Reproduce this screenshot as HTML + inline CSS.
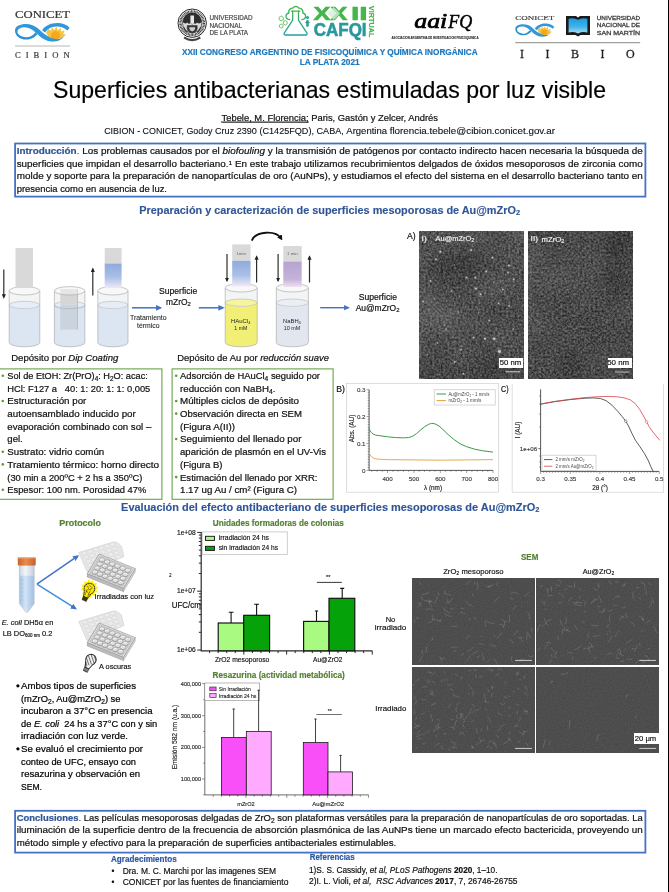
<!DOCTYPE html>
<html lang="es">
<head>
<meta charset="utf-8">
<title>Superficies antibacterianas estimuladas por luz visible</title>
<style>
html,body{margin:0;padding:0;background:#fff;}
body{width:669px;height:892px;overflow:hidden;}
svg{display:block;font-family:"Liberation Sans", Arial, sans-serif;}
text{white-space:pre;}
</style>
</head>
<body>
<svg width="669" height="892" viewBox="0 0 669 892" fill="#111">
<defs>
<linearGradient id="gcaf" x1="0" y1="0" x2="0" y2="1"><stop offset="0" stop-color="#2aa190"/><stop offset="1" stop-color="#2a8fab"/></linearGradient>
<linearGradient id="gfl" gradientUnits="userSpaceOnUse" x1="0" y1="6" x2="0" y2="36"><stop offset="0" stop-color="#4ab848"/><stop offset="1" stop-color="#1f9fa6"/></linearGradient>
<linearGradient id="gbook" x1="0" y1="0" x2="0" y2="1"><stop offset="0" stop-color="#1f9ae0"/><stop offset="0.55" stop-color="#3fb2ea"/><stop offset="1" stop-color="#a9dcf5"/></linearGradient>
<linearGradient id="gblue" x1="0" y1="0" x2="0" y2="1"><stop offset="0" stop-color="#8faadc"/><stop offset="0.55" stop-color="#a9bfe6"/><stop offset="0.85" stop-color="#d5dcf2"/><stop offset="1" stop-color="#f6e6f4"/></linearGradient>
<linearGradient id="gpurp" x1="0" y1="0" x2="0" y2="1"><stop offset="0" stop-color="#b7a3d0"/><stop offset="0.7" stop-color="#c5b3da"/><stop offset="1" stop-color="#efe2f2"/></linearGradient>
<marker id="ahb" viewBox="0 0 10 10" refX="7" refY="5" markerWidth="4.2" markerHeight="4.2" orient="auto-start-reverse"><path d="M0,0.5 L10,5 L0,9.5 z" fill="#4472c4"/></marker>
<marker id="ahk" viewBox="0 0 10 10" refX="7" refY="5" markerWidth="3.8" markerHeight="3.8" orient="auto-start-reverse"><path d="M0,0.5 L10,5 L0,9.5 z" fill="#222"/></marker>
<marker id="ahk2" viewBox="0 0 10 10" refX="6" refY="5" markerWidth="2.9" markerHeight="2.9" orient="auto-start-reverse"><path d="M0,0 L10,5 L0,10 z" fill="#111"/></marker>
<filter id="ntem1" x="0" y="0" width="100%" height="100%" color-interpolation-filters="sRGB"><feTurbulence type="fractalNoise" baseFrequency="0.46" numOctaves="2" seed="3" result="n"/><feTurbulence type="fractalNoise" baseFrequency="0.02" numOctaves="2" seed="23" result="m"/><feComposite in="n" in2="m" operator="arithmetic" k1="0" k2="0.75" k3="0.25" k4="0" result="c"/><feColorMatrix in="c" type="matrix" values="0.62 0 0 0 -0.005  0.62 0 0 0 -0.005  0.62 0 0 0 -0.005  0 0 0 0 1"/></filter>
<filter id="ntem2" x="0" y="0" width="100%" height="100%" color-interpolation-filters="sRGB"><feTurbulence type="fractalNoise" baseFrequency="0.46" numOctaves="2" seed="11" result="n"/><feTurbulence type="fractalNoise" baseFrequency="0.02" numOctaves="2" seed="31" result="m"/><feComposite in="n" in2="m" operator="arithmetic" k1="0" k2="0.75" k3="0.25" k4="0" result="c"/><feColorMatrix in="c" type="matrix" values="0.62 0 0 0 -0.02  0.62 0 0 0 -0.02  0.62 0 0 0 -0.02  0 0 0 0 1"/></filter>
<filter id="nsem" x="0" y="0" width="100%" height="100%" color-interpolation-filters="sRGB"><feTurbulence type="fractalNoise" baseFrequency="0.7" numOctaves="1" seed="5" result="n"/><feColorMatrix in="n" type="matrix" values="0.09 0 0 0 0.258  0.09 0 0 0 0.258  0.09 0 0 0 0.258  0 0 0 0 1"/></filter>
<clipPath id="cs00"><rect x="412.3" y="578.2" width="122.4" height="86.4"/></clipPath>
<clipPath id="cs10"><rect x="536.9" y="578.2" width="122.0" height="86.4"/></clipPath>
<clipPath id="cs01"><rect x="412.3" y="667.0" width="122.4" height="85.6"/></clipPath>
<clipPath id="cs11"><rect x="536.9" y="667.0" width="122.0" height="85.6"/></clipPath>
<linearGradient id="gcap" x1="0" y1="0" x2="1" y2="0"><stop offset="0" stop-color="#c9622c"/><stop offset="0.45" stop-color="#ee8a4c"/><stop offset="1" stop-color="#c55f2a"/></linearGradient>
<linearGradient id="gtube" x1="0" y1="0" x2="1" y2="0"><stop offset="0" stop-color="#c9d4e2"/><stop offset="0.4" stop-color="#f3f6fa"/><stop offset="1" stop-color="#c3cedd"/></linearGradient>
<linearGradient id="gliq" x1="0" y1="0" x2="1" y2="0"><stop offset="0" stop-color="#a6c5e6"/><stop offset="0.4" stop-color="#d3e4f5"/><stop offset="1" stop-color="#a0c0e4"/></linearGradient>
</defs>
<rect x="0" y="0" width="669" height="892" fill="#fff"/>
<text x="15.00" y="18.20" font-size="9.6" stroke="#3a3a3a" stroke-width="0.211" textLength="55.00" lengthAdjust="spacingAndGlyphs" fill="#3a3a3a" font-family='"Liberation Serif", "Times New Roman", serif'>CONICET</text>
<g transform="translate(10,18) scale(0.0972)"><path d="M372,150 L395,108 L420,135 L432,92 L455,125 L478,88 L490,128 L522,100 L524,140 L560,128 L548,165 L575,172 L540,205 L400,205 Z" fill="#f9c33f"/><circle cx="468" cy="182" r="47" fill="#f5a81c"/><path d="M330,125 C365,72 440,42 522,54 C562,60 597,80 613,102 L590,128 C560,98 520,86 478,87 C420,88 388,112 362,150 Z" fill="#2f97dd"/><path d="M53,112 C42,170 90,222 170,222 C222,222 258,196 282,168 L262,146 C236,184 200,200 165,198 C110,195 72,166 76,136 Z" fill="#2a8fd6"/><path d="M53,118 C58,74 150,44 232,74 C304,100 352,190 452,214 C502,226 540,210 566,176 L548,196 C520,246 430,252 378,232 C300,202 262,124 190,102 C130,86 84,102 74,142 Z" fill="#2f97dd"/></g>
<line x1="15" y1="46" x2="70" y2="46" stroke="#9a9a9a" stroke-width="0.7"/>
<text x="15.00" y="58.30" font-size="8.6" stroke="#3a3a3a" stroke-width="0.189" fill="#3a3a3a" font-family='"Liberation Serif", "Times New Roman", serif' letter-spacing="5.0">CIBION</text>
<g><circle cx="192.2" cy="23.2" r="14.2" fill="#fff" stroke="#262626" stroke-width="1.0"/><circle cx="192.2" cy="23.2" r="11.7" fill="none" stroke="#3c3c3c" stroke-width="2.5" stroke-dasharray="0.9 0.55"/><circle cx="192.2" cy="23.2" r="9.7" fill="#dcdcdc" stroke="#222" stroke-width="0.7"/><path d="M182.7,22 a9.5,9.5 0 0 1 19,0 q-2.6,2.6 -4.6,0.4 q-1.4,2.4 -3.4,0.6 l-1.5,1.8 l-1.5,-1.8 q-2,1.8 -3.4,-0.6 q-2,2.2 -4.6,-0.4z" fill="#2e2e2e"/><path d="M190.4,15.6 h3.6 v6.8 l-1.8,2.2 l-1.8,-2.2z" fill="#e8e8e8"/><path d="M187.2,25.6 h10 v3.2 q0,2.8 -5,4.2 q-5,-1.4 -5,-4.2z" fill="#3a3a3a" stroke="#1e1e1e" stroke-width="0.5"/><path d="M189.4,27.2 h5.6 v1.6 q0,1.6 -2.8,2.6 q-2.8,-1 -2.8,-2.6z" fill="#cfcfcf"/><path d="M183.6,27 q1.2,3.6 3.6,5.2 M200.8,27 q-1.2,3.6 -3.6,5.2" stroke="#333" stroke-width="1.1" fill="none"/><path d="M184.6,36.6 q7.6,5 15.2,0 l1,2 q-8.6,5.2 -17.2,0z" fill="#444"/></g>
<text x="209.40" y="19.90" font-size="6.6" stroke="#474747" stroke-width="0.198" textLength="43.10" lengthAdjust="spacingAndGlyphs" fill="#474747">UNIVERSIDAD</text>
<text x="209.40" y="27.60" font-size="6.6" stroke="#474747" stroke-width="0.198" textLength="32.60" lengthAdjust="spacingAndGlyphs" fill="#474747">NACIONAL</text>
<text x="209.40" y="35.20" font-size="6.6" stroke="#474747" stroke-width="0.198" textLength="38.60" lengthAdjust="spacingAndGlyphs" fill="#474747">DE LA PLATA</text>
<g fill="none" stroke="url(#gfl)" stroke-width="1.3" stroke-linejoin="round" stroke-linecap="round"><path d="M292.7,11.2 v9 l-8.3,12.6 q-1,2.2 1.2,2.2 h20 q2.2,0 1.2,-2.2 l-8.3,-12.6 v-9"/><path d="M291.4,11.2 h8.4"/><path d="M289.6,19.6 q-3.6,-0.4 -3.6,-3.6 q0.2,-2.6 2.8,-3 q-0.6,-2.8 1.8,-4.4 q1,-0.7 2.2,-0.5 q1,-1.6 3,-1.6 q2,0 3,1.6 q1.2,-0.2 2.2,0.5 q2.4,1.6 1.8,4.4 q2.6,0.4 2.8,3 q0,3.2 -3.6,3.6"/></g>
<g fill="none" stroke="#4ab54a" stroke-width="0.75"><path d="M281.2,16 l2.1,1.2 v2.4 l-2.1,1.2 l-2.1,-1.2 v-2.4 z"/><path d="M285.3,20.6 l1.9,1.1 v2.2 l-1.9,1.1 l-1.9,-1.1 v-2.2 z"/><path d="M281.2,24 l1.8,1 v2.1 l-1.8,1 l-1.8,-1 v-2.1 z"/><path d="M283.3,19.6 l0.5,0.9 M283.2,24.2 l0.4,-0.4"/></g>
<g fill="#26a393"><circle cx="307.5" cy="17.6" r="1.5"/><rect x="306.2" y="19.9" width="2.6" height="7" rx="1.3"/><rect x="305.4" y="22" width="4.2" height="1.1"/></g>
<text x="313.60" y="20.10" font-size="18.4" stroke="#45b64b" stroke-width="0.644" textLength="33.60" lengthAdjust="spacingAndGlyphs" fill="#45b64b" font-weight="bold">XX</text>
<text x="351.00" y="20.10" font-size="18.4" stroke="#45b64b" stroke-width="0.644" textLength="16.60" lengthAdjust="spacingAndGlyphs" fill="#45b64b" font-weight="bold">II</text>
<path d="M327.6,13.5 l6.2,-6.6 l6.2,6.6 l-6.2,6.6 z" fill="#d3f0d3" opacity="0.78"/>
<text x="313.80" y="35.80" font-size="18.4" textLength="52.80" lengthAdjust="spacingAndGlyphs" fill="url(#gcaf)" font-weight="bold" stroke="#279a9c" stroke-width="0.6">CAFQI</text>
<text x="0.00" y="0.00" font-size="7.4" stroke="#41b24a" stroke-width="0.163" textLength="31.60" lengthAdjust="spacingAndGlyphs" fill="#41b24a" font-weight="bold" transform="translate(369.4,5.8) rotate(90)">VIRTUAL</text>
<text x="414.30" y="27.50" font-size="20.5" textLength="33.00" lengthAdjust="spacingAndGlyphs" fill="#000" font-style="italic" font-family='"Liberation Serif", "Times New Roman", serif' stroke="#000" stroke-width="0.7">aai</text>
<text x="448.20" y="28.20" font-size="19" textLength="24.00" lengthAdjust="spacingAndGlyphs" fill="#000" font-style="italic" font-family='"Liberation Serif", "Times New Roman", serif' stroke="#000" stroke-width="0.45">FQ</text>
<text x="391.50" y="39.40" font-size="3.1" stroke="#222" stroke-width="0.068" textLength="87.00" lengthAdjust="spacingAndGlyphs" fill="#222" font-weight="bold">ASOCIACION ARGENTINA DE INVESTIGACION FISICOQUIMICA</text>
<text x="182.00" y="55.10" font-size="8.3" stroke="#1d78bd" stroke-width="0.183" textLength="295.70" lengthAdjust="spacingAndGlyphs" fill="#1d78bd" font-weight="bold">XXII CONGRESO ARGENTINO DE FISICOQUÍMICA Y QUÍMICA INORGÁNICA</text>
<text x="299.70" y="65.30" font-size="8.3" stroke="#1d78bd" stroke-width="0.183" textLength="60.00" lengthAdjust="spacingAndGlyphs" fill="#1d78bd" font-weight="bold">LA PLATA 2021</text>
<text x="515.30" y="19.80" font-size="6.2" stroke="#3a3a3a" stroke-width="0.136" textLength="39.00" lengthAdjust="spacingAndGlyphs" fill="#3a3a3a" font-family='"Liberation Serif", "Times New Roman", serif'>CONICET</text>
<g transform="translate(511.75,19.9) scale(0.0695)"><path d="M372,150 L395,108 L420,135 L432,92 L455,125 L478,88 L490,128 L522,100 L524,140 L560,128 L548,165 L575,172 L540,205 L400,205 Z" fill="#f9c33f"/><circle cx="468" cy="182" r="47" fill="#f5a81c"/><path d="M330,125 C365,72 440,42 522,54 C562,60 597,80 613,102 L590,128 C560,98 520,86 478,87 C420,88 388,112 362,150 Z" fill="#2f97dd"/><path d="M53,112 C42,170 90,222 170,222 C222,222 258,196 282,168 L262,146 C236,184 200,200 165,198 C110,195 72,166 76,136 Z" fill="#2a8fd6"/><path d="M53,118 C58,74 150,44 232,74 C304,100 352,190 452,214 C502,226 540,210 566,176 L548,196 C520,246 430,252 378,232 C300,202 262,124 190,102 C130,86 84,102 74,142 Z" fill="#2f97dd"/></g>
<g><path d="M566,16 h10 l2,1.4 l2,-1.4 h10 v19 h-9.5 l-2.5,1.4 l-2.5,-1.4 h-9.5 z" fill="#1b1b1b"/><path d="M568.6,18.8 q5,-1.4 9.4,1 q4.4,-2.4 9.4,-1 v13.6 q-5,-1.2 -9.4,1 q-4.4,-2.2 -9.4,-1 z" fill="url(#gbook)"/></g>
<text x="596.80" y="19.60" font-size="5.2" stroke="#444" stroke-width="0.260" textLength="43.30" lengthAdjust="spacingAndGlyphs" fill="#444">UNIVERSIDAD</text>
<text x="596.80" y="27.40" font-size="5.2" stroke="#444" stroke-width="0.260" textLength="43.30" lengthAdjust="spacingAndGlyphs" fill="#444">NACIONAL DE</text>
<text x="596.80" y="35.00" font-size="5.2" stroke="#444" stroke-width="0.260" textLength="43.30" lengthAdjust="spacingAndGlyphs" fill="#444">SAN MARTÍN</text>
<line x1="515.3" y1="42.7" x2="640.2" y2="42.7" stroke="#555" stroke-width="0.7"/>
<text x="520.00" y="58.30" font-size="12" stroke="#1d1d1d" stroke-width="0.264" fill="#1d1d1d" font-family='"Liberation Serif", "Times New Roman", serif' letter-spacing="21.5">IIBIO</text>
<text x="53.00" y="97.80" font-size="23.2" stroke="#000" stroke-width="0.186" textLength="553.00" lengthAdjust="spacingAndGlyphs" fill="#000">Superficies antibacterianas estimuladas por luz visible</text>
<text x="221.50" y="120.70" font-size="9.1" stroke="#111" stroke-width="0.200" textLength="216.50" lengthAdjust="spacingAndGlyphs"><tspan text-decoration="underline">Tebele, M. Florencia;</tspan> Paris, Gastón y Zelcer, Andrés</text>
<text x="104.20" y="134.00" font-size="9.1" stroke="#111" stroke-width="0.109" textLength="110.80" lengthAdjust="spacingAndGlyphs">CIBION - CONICET, Godoy </text>
<text x="215.00" y="134.00" font-size="9.1" stroke="#111" stroke-width="0.109" textLength="131.30" lengthAdjust="spacingAndGlyphs">Cruz 2390 (C1425FQD), CABA, </text>
<text x="346.30" y="134.00" font-size="9.1" stroke="#111" stroke-width="0.109" textLength="43.40" lengthAdjust="spacingAndGlyphs">Argentina </text>
<text x="389.70" y="134.00" font-size="9.1" stroke="#111" stroke-width="0.109" textLength="165.30" lengthAdjust="spacingAndGlyphs">florencia.tebele@cibion.conicet.gov.ar</text>
<rect x="15.1" y="143.5" width="630.3" height="53.1" fill="none" stroke="#4472c4" stroke-width="1.8"/>
<text x="16.70" y="154.30" font-size="9.2" stroke="#111" stroke-width="0.202" textLength="626.00" lengthAdjust="spacingAndGlyphs"><tspan font-weight="bold" fill="#2f5597" stroke="#2f5597">Introducción</tspan><tspan fill="#2f5597" stroke="#2f5597">.</tspan> Los problemas causados por el <tspan font-style="italic">biofouling</tspan> y la transmisión de patógenos por contacto indirecto hacen necesaria la búsqueda de</text>
<text x="16.70" y="166.70" font-size="9.2" stroke="#111" stroke-width="0.202" textLength="626.00" lengthAdjust="spacingAndGlyphs">superficies que impidan el desarrollo bacteriano.<tspan baseline-shift="0.4em" font-size="66%">1</tspan> En este trabajo utilizamos recubrimientos delgados de óxidos mesoporosos de zirconia como</text>
<text x="16.70" y="179.10" font-size="9.2" stroke="#111" stroke-width="0.202" textLength="626.00" lengthAdjust="spacingAndGlyphs">molde y soporte para la preparación de nanopartículas de oro (AuNPs), y estudiamos el efecto del sistema en el desarrollo bacteriano tanto en</text>
<text x="16.70" y="191.50" font-size="9.2" stroke="#111" stroke-width="0.202" textLength="150.30" lengthAdjust="spacingAndGlyphs">presencia como en ausencia de luz.</text>
<text x="139.30" y="213.90" font-size="11.0" stroke="#2f5597" stroke-width="0.132" textLength="380.70" lengthAdjust="spacingAndGlyphs" fill="#2f5597" font-weight="bold">Preparación y caracterización de superficies mesoporosas de Au@mZrO<tspan baseline-shift="-0.2em" font-size="68%">2</tspan></text>
<text x="11.20" y="360.80" font-size="9.1" stroke="#111" stroke-width="0.200" textLength="107.20" lengthAdjust="spacingAndGlyphs">Depósito por <tspan font-style="italic">Dip Coating</tspan></text>
<text x="177.20" y="360.60" font-size="9.1" stroke="#111" stroke-width="0.200" textLength="151.80" lengthAdjust="spacingAndGlyphs">Depósito de Au por <tspan font-style="italic">reducción suave</tspan></text>
<rect x="-2" y="368.9" width="163.9" height="130.4" fill="none" stroke="#68a442" stroke-width="1.1"/>
<rect x="172.1" y="368.9" width="161.0" height="130.4" fill="none" stroke="#68a442" stroke-width="1.1"/>
<circle cx="2.8" cy="375.8" r="1.3" fill="#5f9a3e"/>
<text x="7.30" y="379.20" font-size="9.35" stroke="#111" stroke-width="0.206" textLength="140.50" lengthAdjust="spacingAndGlyphs">Sol de EtOH: Zr(PrO)<tspan baseline-shift="-0.24em" font-size="70%">4</tspan>: H<tspan baseline-shift="-0.24em" font-size="70%">2</tspan>O: acac:</text>
<text x="7.30" y="391.80" font-size="9.35" stroke="#111" stroke-width="0.206" textLength="143.00" lengthAdjust="spacingAndGlyphs">HCl: F127 a   40: 1: 20: 1: 1: 0,005</text>
<circle cx="2.8" cy="401.0" r="1.3" fill="#5f9a3e"/>
<text x="7.30" y="404.40" font-size="9.35" stroke="#111" stroke-width="0.206" textLength="79.00" lengthAdjust="spacingAndGlyphs">Estructuración por</text>
<text x="7.30" y="417.00" font-size="9.35" stroke="#111" stroke-width="0.206" textLength="128.50" lengthAdjust="spacingAndGlyphs">autoensamblado inducido por</text>
<text x="7.30" y="429.70" font-size="9.35" stroke="#111" stroke-width="0.206" textLength="144.00" lengthAdjust="spacingAndGlyphs">evaporación combinado con sol –</text>
<text x="7.30" y="442.40" font-size="9.35" stroke="#111" stroke-width="0.206" textLength="15.50" lengthAdjust="spacingAndGlyphs">gel.</text>
<circle cx="2.8" cy="451.7" r="1.3" fill="#5f9a3e"/>
<text x="7.30" y="455.10" font-size="9.35" stroke="#111" stroke-width="0.206" textLength="97.00" lengthAdjust="spacingAndGlyphs">Sustrato: vidrio común</text>
<circle cx="2.8" cy="464.4" r="1.3" fill="#5f9a3e"/>
<text x="7.30" y="467.80" font-size="9.35" stroke="#111" stroke-width="0.206" textLength="151.80" lengthAdjust="spacingAndGlyphs">Tratamiento térmico: horno directo</text>
<text x="7.30" y="480.50" font-size="9.35" stroke="#111" stroke-width="0.206" textLength="135.00" lengthAdjust="spacingAndGlyphs">(30 min a 200ºC + 2 hs a 350ºC)</text>
<circle cx="2.8" cy="489.8" r="1.3" fill="#5f9a3e"/>
<text x="7.30" y="493.20" font-size="9.35" stroke="#111" stroke-width="0.206" textLength="139.00" lengthAdjust="spacingAndGlyphs">Espesor: 100 nm. Porosidad 47%</text>
<circle cx="176.2" cy="375.8" r="1.3" fill="#5f9a3e"/>
<text x="180.00" y="379.20" font-size="9.35" stroke="#111" stroke-width="0.206" textLength="140.00" lengthAdjust="spacingAndGlyphs">Adsorción de HAuCl<tspan baseline-shift="-0.24em" font-size="70%">4</tspan> seguido por</text>
<text x="180.00" y="391.80" font-size="9.35" stroke="#111" stroke-width="0.206" textLength="95.50" lengthAdjust="spacingAndGlyphs">reducción con NaBH<tspan baseline-shift="-0.24em" font-size="70%">4</tspan>.</text>
<circle cx="176.2" cy="401.0" r="1.3" fill="#5f9a3e"/>
<text x="180.00" y="404.40" font-size="9.35" stroke="#111" stroke-width="0.206" textLength="119.00" lengthAdjust="spacingAndGlyphs">Múltiples ciclos de depósito</text>
<circle cx="176.2" cy="413.6" r="1.3" fill="#5f9a3e"/>
<text x="180.00" y="417.00" font-size="9.35" stroke="#111" stroke-width="0.206" textLength="122.00" lengthAdjust="spacingAndGlyphs">Observación directa en SEM</text>
<text x="180.00" y="429.70" font-size="9.35" stroke="#111" stroke-width="0.206" textLength="55.00" lengthAdjust="spacingAndGlyphs">(Figura A(II))</text>
<circle cx="176.2" cy="439.0" r="1.3" fill="#5f9a3e"/>
<text x="180.00" y="442.40" font-size="9.35" stroke="#111" stroke-width="0.206" textLength="121.50" lengthAdjust="spacingAndGlyphs">Seguimiento del llenado por</text>
<text x="180.00" y="455.10" font-size="9.35" stroke="#111" stroke-width="0.206" textLength="146.00" lengthAdjust="spacingAndGlyphs">aparición de plasmón en el UV-Vis</text>
<text x="180.00" y="467.80" font-size="9.35" stroke="#111" stroke-width="0.206" textLength="42.50" lengthAdjust="spacingAndGlyphs">(Figura B)</text>
<circle cx="176.2" cy="477.1" r="1.3" fill="#5f9a3e"/>
<text x="180.00" y="480.50" font-size="9.35" stroke="#111" stroke-width="0.206" textLength="137.50" lengthAdjust="spacingAndGlyphs">Estimación del llenado por XRR:</text>
<text x="180.00" y="493.20" font-size="9.35" stroke="#111" stroke-width="0.206" textLength="117.00" lengthAdjust="spacingAndGlyphs">1.17 ug Au / cm² (Figura C)</text>
<text x="121.10" y="510.70" font-size="11.0" stroke="#2f5597" stroke-width="0.132" textLength="418.40" lengthAdjust="spacingAndGlyphs" fill="#2f5597" font-weight="bold">Evaluación del efecto antibacteriano de superficies mesoporosas de Au@mZrO<tspan baseline-shift="-0.2em" font-size="68%">2</tspan></text>
<text x="59.30" y="526.00" font-size="9.3" stroke="#548235" stroke-width="0.205" textLength="41.70" lengthAdjust="spacingAndGlyphs" fill="#548235" font-weight="bold">Protocolo</text>
<text x="212.80" y="526.00" font-size="8.5" stroke="#548235" stroke-width="0.187" textLength="131.00" lengthAdjust="spacingAndGlyphs" fill="#548235" font-weight="bold">Unidades formadoras de colonias</text>
<text x="212.60" y="678.00" font-size="8.5" stroke="#548235" stroke-width="0.187" textLength="132.20" lengthAdjust="spacingAndGlyphs" fill="#548235" font-weight="bold">Resazurina (actividad metabólica)</text>
<text x="521.00" y="560.30" font-size="8.3" stroke="#548235" stroke-width="0.183" textLength="17.30" lengthAdjust="spacingAndGlyphs" fill="#548235" font-weight="bold">SEM</text>
<circle cx="17.9" cy="685.8" r="1.6" fill="#000"/>
<text x="21.00" y="689.00" font-size="9.4" stroke="#000" stroke-width="0.207" textLength="115.00" lengthAdjust="spacingAndGlyphs" fill="#000">Ambos tipos de superficies</text>
<text x="21.00" y="701.60" font-size="9.4" stroke="#000" stroke-width="0.207" textLength="99.50" lengthAdjust="spacingAndGlyphs" fill="#000">(mZrO<tspan baseline-shift="-0.24em" font-size="70%">2</tspan>, Au@mZrO<tspan baseline-shift="-0.24em" font-size="70%">2</tspan>) se</text>
<text x="21.00" y="714.20" font-size="9.4" stroke="#000" stroke-width="0.207" textLength="131.50" lengthAdjust="spacingAndGlyphs" fill="#000">incubaron a 37°C en presencia</text>
<text x="21.00" y="726.80" font-size="9.4" stroke="#000" stroke-width="0.207" textLength="136.30" lengthAdjust="spacingAndGlyphs" fill="#000">de <tspan font-style="italic">E. coli</tspan>  24 hs a 37°C con y sin</text>
<text x="21.00" y="739.40" font-size="9.4" stroke="#000" stroke-width="0.207" textLength="107.00" lengthAdjust="spacingAndGlyphs" fill="#000">irradiación con luz verde.</text>
<circle cx="17.9" cy="748.8" r="1.6" fill="#000"/>
<text x="21.00" y="752.00" font-size="9.4" stroke="#000" stroke-width="0.207" textLength="122.00" lengthAdjust="spacingAndGlyphs" fill="#000">Se evaluó el crecimiento por</text>
<text x="21.00" y="764.70" font-size="9.4" stroke="#000" stroke-width="0.207" textLength="115.00" lengthAdjust="spacingAndGlyphs" fill="#000">conteo de UFC, ensayo con</text>
<text x="21.00" y="777.30" font-size="9.4" stroke="#000" stroke-width="0.207" textLength="119.00" lengthAdjust="spacingAndGlyphs" fill="#000">resazurina y observación en</text>
<text x="21.00" y="790.00" font-size="9.4" stroke="#000" stroke-width="0.207" textLength="21.00" lengthAdjust="spacingAndGlyphs" fill="#000">SEM.</text>
<rect x="15.1" y="810.8" width="630.3" height="41.8" fill="none" stroke="#4472c4" stroke-width="1.8"/>
<text x="16.70" y="820.80" font-size="9.2" stroke="#111" stroke-width="0.202" textLength="626.00" lengthAdjust="spacingAndGlyphs"><tspan font-weight="bold" fill="#2f5597" stroke="#2f5597">Conclusiones</tspan><tspan fill="#2f5597" stroke="#2f5597">.</tspan> Las películas mesoporosas delgadas de ZrO<tspan baseline-shift="-0.24em" font-size="70%">2</tspan> son plataformas versátiles para la preparación de nanopartículas de oro soportadas. La</text>
<text x="16.70" y="833.25" font-size="9.2" stroke="#111" stroke-width="0.202" textLength="626.00" lengthAdjust="spacingAndGlyphs">iluminación de la superficie dentro de la frecuencia de absorción plasmónica de las AuNPs tiene un marcado efecto bactericida, proveyendo un</text>
<text x="16.70" y="845.70" font-size="9.2" stroke="#111" stroke-width="0.202" textLength="379.60" lengthAdjust="spacingAndGlyphs">método simple y efectivo para la preparación de superficies antibacteriales estimulables.</text>
<text x="111.00" y="861.70" font-size="8.3" stroke="#2c58a2" stroke-width="0.183" textLength="65.70" lengthAdjust="spacingAndGlyphs" fill="#2c58a2" font-weight="bold">Agradecimientos</text>
<text x="111.60" y="874.30" font-size="8.3" stroke="#111" stroke-width="0.183">•</text>
<text x="122.70" y="874.30" font-size="8.2" stroke="#111" stroke-width="0.180" textLength="153.30" lengthAdjust="spacingAndGlyphs">Dra. M. C. Marchi por las imagenes SEM</text>
<text x="111.60" y="885.30" font-size="8.3" stroke="#111" stroke-width="0.183">•</text>
<text x="122.70" y="885.30" font-size="8.2" stroke="#111" stroke-width="0.180" textLength="165.80" lengthAdjust="spacingAndGlyphs">CONICET por las fuentes de financiamiento</text>
<text x="309.70" y="860.00" font-size="8.3" stroke="#2c58a2" stroke-width="0.183" textLength="45.00" lengthAdjust="spacingAndGlyphs" fill="#2c58a2" font-weight="bold">Referencias</text>
<text x="309.00" y="872.50" font-size="8.2" stroke="#111" stroke-width="0.180" textLength="188.50" lengthAdjust="spacingAndGlyphs">1)S. S. Cassidy, <tspan font-style="italic">et al, PLoS Pathogens</tspan> <tspan font-weight="bold">2020</tspan>, 1–10.</text>
<text x="309.00" y="883.80" font-size="8.2" stroke="#111" stroke-width="0.180" textLength="208.50" lengthAdjust="spacingAndGlyphs">2)I. L. Violi, <tspan font-style="italic">et al,  RSC Advances</tspan> <tspan font-weight="bold">2017</tspan>, 7, 26746-26755</text>
<path d="M9.2,290.8 V342.6 A15.299999999999999,4.2 0 0 0 39.8,342.6 V290.8 A15.299999999999999,4.2 0 0 0 9.2,290.8z" fill="#f3f4f6" stroke="none"/><path d="M9.2,305.0 V342.6 A15.299999999999999,4.2 0 0 0 39.8,342.6 V305.0 A15.299999999999999,4.2 0 0 1 9.2,305.0z" fill="#dce5f2"/><ellipse cx="24.5" cy="305.0" rx="15.299999999999999" ry="3.7" fill="#e6edf7" stroke="#a3a3a3" stroke-width="0.45"/>
<path d="M9.2,290.8 V342.6 A15.299999999999999,4.2 0 0 0 39.8,342.6 V290.8" fill="none" stroke="#a3a3a3" stroke-width="0.6"/><ellipse cx="24.5" cy="290.8" rx="15.299999999999999" ry="4.2" fill="rgba(255,255,255,0.4)" stroke="#a3a3a3" stroke-width="0.6"/>
<rect x="15.5" y="248" width="17.5" height="40" fill="#d9d9d9"/>
<line x1="3.8" y1="269.6" x2="3.8" y2="297.4" stroke="#2d2d2d" stroke-width="1.2" marker-end="url(#ahk)"/>
<path d="M54.4,290.8 V342.6 A15.250000000000004,4.2 0 0 0 84.9,342.6 V290.8 A15.250000000000004,4.2 0 0 0 54.4,290.8z" fill="#f3f4f6" stroke="none"/><path d="M54.4,305.0 V342.6 A15.250000000000004,4.2 0 0 0 84.9,342.6 V305.0 A15.250000000000004,4.2 0 0 1 54.4,305.0z" fill="#dce5f2"/><ellipse cx="69.65" cy="305.0" rx="15.250000000000004" ry="3.7" fill="#e6edf7" stroke="#a3a3a3" stroke-width="0.45"/>
<rect x="60.3" y="289" width="17.7" height="15.6" fill="#d6d6d6"/>
<rect x="60.3" y="304.6" width="17.7" height="25" fill="#cbd3df"/>
<rect x="77" y="289" width="1" height="40.6" fill="#b9bfc9"/>
<path d="M54.4,305.0 A15.25,3.7 0 0 0 84.9,305.0" fill="none" stroke="#a3a3a3" stroke-width="0.45"/>
<path d="M54.4,290.8 V342.6 A15.250000000000004,4.2 0 0 0 84.9,342.6 V290.8" fill="none" stroke="#a3a3a3" stroke-width="0.6"/><ellipse cx="69.65" cy="290.8" rx="15.250000000000004" ry="4.2" fill="rgba(255,255,255,0.4)" stroke="#a3a3a3" stroke-width="0.6"/>
<line x1="92.8" y1="295.6" x2="92.8" y2="268.8" stroke="#2d2d2d" stroke-width="1.2" marker-end="url(#ahk)"/>
<path d="M97.8,290.8 V342.6 A15.100000000000001,4.2 0 0 0 128.0,342.6 V290.8 A15.100000000000001,4.2 0 0 0 97.8,290.8z" fill="#f3f4f6" stroke="none"/><path d="M97.8,305.0 V342.6 A15.100000000000001,4.2 0 0 0 128.0,342.6 V305.0 A15.100000000000001,4.2 0 0 1 97.8,305.0z" fill="#dce5f2"/><ellipse cx="112.9" cy="305.0" rx="15.100000000000001" ry="3.7" fill="#e6edf7" stroke="#a3a3a3" stroke-width="0.45"/>
<path d="M97.8,290.8 V342.6 A15.100000000000001,4.2 0 0 0 128.0,342.6 V290.8" fill="none" stroke="#a3a3a3" stroke-width="0.6"/><ellipse cx="112.9" cy="290.8" rx="15.100000000000001" ry="4.2" fill="rgba(255,255,255,0.4)" stroke="#a3a3a3" stroke-width="0.6"/>
<rect x="104.7" y="248" width="16.9" height="15.8" fill="#d9d9d9"/>
<rect x="104.7" y="263.6" width="16.9" height="24.4" fill="url(#gblue)"/>
<line x1="132" y1="307.8" x2="160.4" y2="307.8" stroke="#4472c4" stroke-width="1.5" marker-end="url(#ahb)"/>
<text x="148.30" y="319.60" font-size="6.6" stroke="#222" stroke-width="0.066" textLength="36.50" lengthAdjust="spacingAndGlyphs" fill="#222" text-anchor="middle">Tratamiento</text>
<text x="148.30" y="327.60" font-size="6.6" stroke="#222" stroke-width="0.066" textLength="22.50" lengthAdjust="spacingAndGlyphs" fill="#222" text-anchor="middle">térmico</text>
<text x="178.10" y="293.90" font-size="8.3" stroke="#111" stroke-width="0.183" textLength="38.20" lengthAdjust="spacingAndGlyphs" text-anchor="middle">Superficie</text>
<text x="178.50" y="305.00" font-size="8.3" stroke="#111" stroke-width="0.183" textLength="24.80" lengthAdjust="spacingAndGlyphs" text-anchor="middle">mZrO<tspan baseline-shift="-0.24em" font-size="70%">2</tspan></text>
<line x1="198.8" y1="307.8" x2="222.8" y2="307.8" stroke="#4472c4" stroke-width="1.5" marker-end="url(#ahb)"/>
<path d="M225.2,287.8 V342.6 A16.0,4.2 0 0 0 257.2,342.6 V287.8 A16.0,4.2 0 0 0 225.2,287.8z" fill="#f3f4f6" stroke="none"/><path d="M225.2,302.7 V342.6 A16.0,4.2 0 0 0 257.2,342.6 V302.7 A16.0,4.2 0 0 1 225.2,302.7z" fill="#f1ef76"/><ellipse cx="241.2" cy="302.7" rx="16.0" ry="3.7" fill="#f6f49c" stroke="#a3a3a3" stroke-width="0.45"/>
<path d="M225.2,287.8 V342.6 A16.0,4.2 0 0 0 257.2,342.6 V287.8" fill="none" stroke="#a3a3a3" stroke-width="0.6"/><ellipse cx="241.2" cy="287.8" rx="16.0" ry="4.2" fill="rgba(255,255,255,0.4)" stroke="#a3a3a3" stroke-width="0.6"/>
<rect x="232.2" y="244.4" width="18.4" height="16.7" fill="#d9d9d9"/>
<rect x="232.2" y="260.9" width="18.4" height="25.4" fill="url(#gblue)"/>
<text x="241.20" y="254.60" font-size="4.4" fill="#6a6a6a" text-anchor="middle">1min</text>
<line x1="227.0" y1="254.1" x2="227.0" y2="280.8" stroke="#2d2d2d" stroke-width="1.2" marker-end="url(#ahk)"/>
<line x1="256.6" y1="282.5" x2="256.6" y2="256.6" stroke="#2d2d2d" stroke-width="1.2" marker-end="url(#ahk)"/>
<text x="240.80" y="322.50" font-size="5.7" textLength="19.40" lengthAdjust="spacingAndGlyphs" fill="#222" text-anchor="middle">HAuCl<tspan baseline-shift="-0.24em" font-size="70%">4</tspan></text>
<text x="240.80" y="330.00" font-size="5.7" textLength="13.00" lengthAdjust="spacingAndGlyphs" fill="#222" text-anchor="middle">1 mM</text>
<path d="M276.3,287.8 V342.6 A16.049999999999983,4.2 0 0 0 308.4,342.6 V287.8 A16.049999999999983,4.2 0 0 0 276.3,287.8z" fill="#f3f4f6" stroke="none"/><path d="M276.3,302.7 V342.6 A16.049999999999983,4.2 0 0 0 308.4,342.6 V302.7 A16.049999999999983,4.2 0 0 1 276.3,302.7z" fill="#e2e7ef"/><ellipse cx="292.35" cy="302.7" rx="16.049999999999983" ry="3.7" fill="#ebeff5" stroke="#a3a3a3" stroke-width="0.45"/>
<path d="M276.3,287.8 V342.6 A16.049999999999983,4.2 0 0 0 308.4,342.6 V287.8" fill="none" stroke="#a3a3a3" stroke-width="0.6"/><ellipse cx="292.35" cy="287.8" rx="16.049999999999983" ry="4.2" fill="rgba(255,255,255,0.4)" stroke="#a3a3a3" stroke-width="0.6"/>
<rect x="283.3" y="246" width="18.4" height="15.8" fill="#d9d9d9"/>
<rect x="283.3" y="261.6" width="18.4" height="25.4" fill="url(#gpurp)"/>
<text x="292.40" y="254.60" font-size="4.4" fill="#6a6a6a" text-anchor="middle">1 min</text>
<line x1="278.1" y1="254.1" x2="278.1" y2="280.8" stroke="#2d2d2d" stroke-width="1.2" marker-end="url(#ahk)"/>
<line x1="309.5" y1="282.5" x2="309.5" y2="256.6" stroke="#2d2d2d" stroke-width="1.2" marker-end="url(#ahk)"/>
<text x="292.00" y="322.50" font-size="5.7" textLength="17.80" lengthAdjust="spacingAndGlyphs" fill="#222" text-anchor="middle">NaBH<tspan baseline-shift="-0.24em" font-size="70%">4</tspan></text>
<text x="292.00" y="330.00" font-size="5.7" textLength="16.60" lengthAdjust="spacingAndGlyphs" fill="#222" text-anchor="middle">10 mM</text>
<path d="M251.8,240.6 C255.4,230.8 276,230 281.2,238.6" fill="none" stroke="#111" stroke-width="1.9" marker-end="url(#ahk2)"/>
<line x1="320.2" y1="307.7" x2="348.2" y2="307.7" stroke="#4472c4" stroke-width="1.4" marker-end="url(#ahb)"/>
<text x="377.80" y="300.10" font-size="8.3" stroke="#111" stroke-width="0.183" textLength="38.30" lengthAdjust="spacingAndGlyphs" text-anchor="middle">Superficie</text>
<text x="377.60" y="310.80" font-size="8.3" stroke="#111" stroke-width="0.183" textLength="43.80" lengthAdjust="spacingAndGlyphs" text-anchor="middle">Au@mZrO<tspan baseline-shift="-0.24em" font-size="70%">2</tspan></text>
<text x="407.00" y="239.30" font-size="8.4" stroke="#111" stroke-width="0.185" textLength="8.70" lengthAdjust="spacingAndGlyphs">A)</text>
<rect x="419.2" y="231.0" width="104.8" height="147.6" fill="#4a4a4a"/>
<rect x="419.2" y="231.0" width="104.8" height="147.6" filter="url(#ntem1)"/>
<rect x="528.4" y="231.0" width="104.5" height="147.6" fill="#4a4a4a"/>
<rect x="528.4" y="231.0" width="104.5" height="147.6" filter="url(#ntem2)"/>
<circle cx="440.3" cy="251.8" r="1.55" fill="#8e8e8e" opacity="0.5"/>
<circle cx="440.3" cy="251.8" r="0.94" fill="#c6c6c6"/>
<circle cx="471.2" cy="250.1" r="1.55" fill="#8e8e8e" opacity="0.5"/>
<circle cx="471.2" cy="250.1" r="0.94" fill="#c6c6c6"/>
<circle cx="435.8" cy="259.3" r="1.35" fill="#8e8e8e" opacity="0.5"/>
<circle cx="435.8" cy="259.3" r="0.77" fill="#c6c6c6"/>
<circle cx="492.5" cy="257.6" r="1.45" fill="#8e8e8e" opacity="0.5"/>
<circle cx="492.5" cy="257.6" r="0.85" fill="#c6c6c6"/>
<circle cx="509.0" cy="265.5" r="1.45" fill="#8e8e8e" opacity="0.5"/>
<circle cx="509.0" cy="265.5" r="0.85" fill="#c6c6c6"/>
<circle cx="486.3" cy="271.4" r="1.35" fill="#8e8e8e" opacity="0.5"/>
<circle cx="486.3" cy="271.4" r="0.77" fill="#c6c6c6"/>
<circle cx="508.0" cy="272.4" r="1.35" fill="#8e8e8e" opacity="0.5"/>
<circle cx="508.0" cy="272.4" r="0.77" fill="#c6c6c6"/>
<circle cx="466.7" cy="277.6" r="1.35" fill="#8e8e8e" opacity="0.5"/>
<circle cx="466.7" cy="277.6" r="0.77" fill="#c6c6c6"/>
<circle cx="475.3" cy="277.6" r="1.45" fill="#8e8e8e" opacity="0.5"/>
<circle cx="475.3" cy="277.6" r="0.85" fill="#c6c6c6"/>
<circle cx="513.8" cy="279.3" r="1.35" fill="#8e8e8e" opacity="0.5"/>
<circle cx="513.8" cy="279.3" r="0.77" fill="#c6c6c6"/>
<circle cx="476.0" cy="288.6" r="1.55" fill="#8e8e8e" opacity="0.5"/>
<circle cx="476.0" cy="288.6" r="0.94" fill="#c6c6c6"/>
<circle cx="502.8" cy="289.6" r="1.35" fill="#8e8e8e" opacity="0.5"/>
<circle cx="502.8" cy="289.6" r="0.77" fill="#c6c6c6"/>
<circle cx="480.5" cy="294.1" r="1.45" fill="#8e8e8e" opacity="0.5"/>
<circle cx="480.5" cy="294.1" r="0.85" fill="#c6c6c6"/>
<circle cx="423.1" cy="301.6" r="1.35" fill="#8e8e8e" opacity="0.5"/>
<circle cx="423.1" cy="301.6" r="0.77" fill="#c6c6c6"/>
<circle cx="498.7" cy="303.3" r="1.35" fill="#8e8e8e" opacity="0.5"/>
<circle cx="498.7" cy="303.3" r="0.77" fill="#c6c6c6"/>
<circle cx="509.0" cy="305.8" r="1.25" fill="#8e8e8e" opacity="0.5"/>
<circle cx="509.0" cy="305.8" r="0.68" fill="#c6c6c6"/>
<circle cx="451.3" cy="291.3" r="1.25" fill="#8e8e8e" opacity="0.5"/>
<circle cx="451.3" cy="291.3" r="0.68" fill="#c6c6c6"/>
<circle cx="473.6" cy="337.7" r="1.35" fill="#8e8e8e" opacity="0.5"/>
<circle cx="473.6" cy="337.7" r="0.77" fill="#c6c6c6"/>
<circle cx="484.9" cy="338.8" r="1.65" fill="#8e8e8e" opacity="0.5"/>
<circle cx="484.9" cy="338.8" r="1.02" fill="#c6c6c6"/>
<circle cx="494.2" cy="338.8" r="1.85" fill="#8e8e8e" opacity="0.5"/>
<circle cx="494.2" cy="338.8" r="1.19" fill="#c6c6c6"/>
<circle cx="499.4" cy="351.5" r="2.15" fill="#8e8e8e" opacity="0.5"/>
<circle cx="499.4" cy="351.5" r="1.44" fill="#c6c6c6"/>
<circle cx="454.7" cy="361.8" r="1.45" fill="#8e8e8e" opacity="0.5"/>
<circle cx="454.7" cy="361.8" r="0.85" fill="#c6c6c6"/>
<circle cx="460.9" cy="349.8" r="1.35" fill="#8e8e8e" opacity="0.5"/>
<circle cx="460.9" cy="349.8" r="0.77" fill="#c6c6c6"/>
<circle cx="463.3" cy="373.8" r="1.35" fill="#8e8e8e" opacity="0.5"/>
<circle cx="463.3" cy="373.8" r="0.77" fill="#c6c6c6"/>
<circle cx="446.1" cy="329.1" r="1.25" fill="#8e8e8e" opacity="0.5"/>
<circle cx="446.1" cy="329.1" r="0.68" fill="#c6c6c6"/>
<circle cx="430.6" cy="281.0" r="1.25" fill="#8e8e8e" opacity="0.5"/>
<circle cx="430.6" cy="281.0" r="0.68" fill="#c6c6c6"/>
<circle cx="489.1" cy="320.5" r="1.25" fill="#8e8e8e" opacity="0.5"/>
<circle cx="489.1" cy="320.5" r="0.68" fill="#c6c6c6"/>
<circle cx="458.1" cy="311.9" r="1.15" fill="#8e8e8e" opacity="0.5"/>
<circle cx="458.1" cy="311.9" r="0.59" fill="#c6c6c6"/>
<circle cx="437.5" cy="342.9" r="1.15" fill="#8e8e8e" opacity="0.5"/>
<circle cx="437.5" cy="342.9" r="0.59" fill="#c6c6c6"/>
<circle cx="513.1" cy="329.1" r="1.15" fill="#8e8e8e" opacity="0.5"/>
<circle cx="513.1" cy="329.1" r="0.59" fill="#c6c6c6"/>
<circle cx="454.4" cy="265.0" r="0.65" fill="#a8a8a8"/>
<circle cx="430.0" cy="313.5" r="0.56" fill="#a8a8a8"/>
<circle cx="428.6" cy="309.9" r="0.46" fill="#a8a8a8"/>
<circle cx="465.1" cy="254.8" r="0.48" fill="#a8a8a8"/>
<circle cx="464.2" cy="350.2" r="0.49" fill="#a8a8a8"/>
<circle cx="444.7" cy="325.1" r="0.73" fill="#a8a8a8"/>
<circle cx="479.0" cy="296.0" r="0.74" fill="#a8a8a8"/>
<circle cx="427.5" cy="354.2" r="0.54" fill="#a8a8a8"/>
<circle cx="437.0" cy="260.8" r="0.54" fill="#a8a8a8"/>
<circle cx="502.2" cy="268.8" r="0.62" fill="#a8a8a8"/>
<circle cx="485.0" cy="292.9" r="0.61" fill="#a8a8a8"/>
<circle cx="429.1" cy="253.5" r="0.51" fill="#a8a8a8"/>
<circle cx="489.0" cy="299.9" r="0.54" fill="#a8a8a8"/>
<circle cx="479.8" cy="303.1" r="0.54" fill="#a8a8a8"/>
<circle cx="500.1" cy="334.1" r="0.52" fill="#a8a8a8"/>
<circle cx="478.7" cy="312.2" r="0.71" fill="#a8a8a8"/>
<circle cx="493.8" cy="282.3" r="0.74" fill="#a8a8a8"/>
<circle cx="434.5" cy="298.7" r="0.68" fill="#a8a8a8"/>
<text x="421.60" y="241.20" font-size="7.8" stroke="#f2f2f2" stroke-width="0.172" textLength="5.20" lengthAdjust="spacingAndGlyphs" fill="#f2f2f2">I)</text>
<text x="435.60" y="241.30" font-size="6.6" stroke="#f2f2f2" stroke-width="0.145" textLength="38.60" lengthAdjust="spacingAndGlyphs" fill="#f2f2f2">Au@mZrO<tspan baseline-shift="-0.24em" font-size="70%">2</tspan></text>
<text x="530.60" y="241.40" font-size="7.8" stroke="#f2f2f2" stroke-width="0.172" textLength="7.40" lengthAdjust="spacingAndGlyphs" fill="#f2f2f2">II)</text>
<text x="541.60" y="241.80" font-size="6.6" stroke="#f2f2f2" stroke-width="0.145" textLength="22.70" lengthAdjust="spacingAndGlyphs" fill="#f2f2f2">mZrO<tspan baseline-shift="-0.24em" font-size="70%">2</tspan></text>
<rect x="499" y="358" width="24.1" height="10" fill="#fff"/>
<text x="499.80" y="365.10" font-size="8.0" stroke="#111" stroke-width="0.176" textLength="21.40" lengthAdjust="spacingAndGlyphs">50 nm</text>
<rect x="505.3" y="371.2" width="14.7" height="1.1" fill="#c4c4c4"/>
<clipPath id="cl50"><rect x="608" y="358" width="24" height="10"/></clipPath>
<rect x="608" y="358" width="24" height="10" fill="#fff"/>
<g clip-path="url(#cl50)">
<text x="607.20" y="365.10" font-size="8.0" stroke="#111" stroke-width="0.176" textLength="22.00" lengthAdjust="spacingAndGlyphs">50 nm</text>
</g>
<rect x="615" y="371.5" width="14.6" height="1.1" fill="#b4b4b4"/>
<text x="473.40" y="574.30" font-size="7.7" stroke="#111" stroke-width="0.169" textLength="60.40" lengthAdjust="spacingAndGlyphs" text-anchor="middle">ZrO₂ mesoporoso</text>
<text x="598.50" y="574.30" font-size="7.7" stroke="#111" stroke-width="0.169" textLength="31.60" lengthAdjust="spacingAndGlyphs" text-anchor="middle">Au@ZrO₂</text>
<text x="390.50" y="621.90" font-size="7.7" stroke="#111" stroke-width="0.169" textLength="9.60" lengthAdjust="spacingAndGlyphs" text-anchor="middle">No</text>
<text x="390.50" y="630.20" font-size="7.7" stroke="#111" stroke-width="0.169" textLength="31.60" lengthAdjust="spacingAndGlyphs" text-anchor="middle">irradiado</text>
<text x="390.80" y="711.40" font-size="7.7" stroke="#111" stroke-width="0.169" textLength="31.00" lengthAdjust="spacingAndGlyphs" text-anchor="middle">Irradiado</text>
<rect x="412.3" y="578.2" width="122.4" height="86.4" fill="#4e4e4e"/>
<rect x="412.3" y="578.2" width="122.4" height="86.4" filter="url(#nsem)" opacity="1"/>
<path clip-path="url(#cs00)" d="M432.0,619.5q4.1,0.7 5.8,0.7M516.2,605.4q-1.2,2.0 -3.1,4.4M512.1,656.2q-1.7,3.8 0.5,5.8M489.6,660.0q-1.9,1.6 -2.8,1.8M416.9,617.3q-1.0,1.7 2.0,1.1M429.4,600.1q-0.6,3.2 2.4,6.7M478.3,651.2q-4.0,1.5 -6.0,3.8M456.1,651.3q-2.7,-1.0 -2.5,0.3M441.5,619.2q-2.6,1.2 -0.9,3.1M457.3,625.7q-2.9,1.0 -5.9,0.9M493.0,584.5q-1.5,2.3 -6.2,2.0M460.0,612.3q0.7,-1.0 5.3,1.8M438.6,593.2q-1.8,-0.7 0.9,1.6M426.1,609.4q4.1,-1.3 7.2,0.6M443.7,608.1q2.0,3.2 1.0,2.1M468.5,619.1q0.4,-0.7 2.1,0.6M510.8,593.2q4.0,-1.3 7.7,0.6M477.5,582.4q1.3,4.8 -0.7,7.8M444.7,609.7q3.0,2.9 5.6,3.3M452.7,598.1q-1.7,3.6 -6.6,4.4M509.6,639.7q1.2,-0.5 3.7,3.2M417.6,602.7q4.1,1.9 4.1,4.4M523.4,659.6q-3.1,-0.9 -3.8,0.5M437.2,596.6q0.1,3.3 -2.8,6.8M490.3,644.5q4.6,2.0 5.6,1.5M501.6,618.6q2.1,3.1 5.6,3.5M527.4,612.0q2.2,2.2 2.3,7.3M429.1,592.4q-4.8,2.4 -6.4,2.0M528.4,633.0q-0.5,0.1 2.3,4.5M527.3,632.4q-0.6,5.4 -0.6,7.5M510.5,597.2q0.1,1.6 2.4,2.4M444.5,613.9q2.8,1.3 6.8,3.0M482.2,652.9q0.9,3.8 1.8,7.2M475.2,581.7q-1.9,2.6 0.5,2.6M434.4,618.3q-2.4,2.0 -3.3,3.9M479.0,643.3q1.3,-0.1 4.9,1.7M504.2,621.0q1.2,2.9 -1.2,6.3M485.6,620.8q-0.3,3.1 -0.2,6.0M469.9,655.9q-0.2,1.9 -4.2,5.8M479.4,656.0q-2.7,0.3 -2.1,1.2M422.7,599.5q4.1,2.4 5.7,1.3M432.3,637.8q1.1,3.1 -1.2,2.1M439.9,656.8q2.9,3.7 1.5,4.4M433.1,614.9q-1.4,1.1 -0.2,3.7M498.4,581.8q-2.5,1.4 -0.7,4.3M486.9,621.4q5.1,2.9 7.7,1.6M426.5,601.6q2.2,-1.2 6.5,0.8M463.5,653.5q-2.9,2.7 -2.7,1.7M480.7,636.5q1.7,-0.1 1.8,0.5M422.7,655.6q-3.2,4.6 -2.8,6.1M422.1,649.6q0.5,3.7 0.5,3.7M445.5,590.6q-1.8,0.0 -0.3,3.0M420.2,596.4q2.1,0.5 1.9,2.9M472.5,594.5q-0.7,-1.4 0.7,1.4M499.6,624.5q3.8,-0.4 3.8,2.6M509.6,614.9q-0.4,3.5 0.1,6.9M494.4,659.2q2.5,3.6 3.3,6.1M461.4,608.1q-0.7,1.3 2.3,0.4M444.1,593.3q5.0,1.7 6.7,1.8M447.1,599.7q-0.1,1.5 2.7,3.6M444.9,657.5q-3.6,2.3 -5.0,0.4M450.3,608.9q1.9,0.0 4.0,0.0M437.7,620.8q-0.2,-0.4 3.2,0.1M419.2,582.0q1.2,1.4 1.7,2.5M501.7,633.1q-2.8,2.0 -4.5,5.6M528.9,592.2q-3.8,3.6 -3.7,4.3M518.1,630.6q-3.9,2.6 -4.5,5.0M473.0,647.3q-2.4,3.7 -5.6,4.0M493.8,635.9q-1.0,-0.1 1.3,1.1M426.5,647.4q0.0,3.5 -1.0,5.5M471.3,580.5q-2.5,2.0 -5.1,3.8M491.0,585.5q-2.9,0.1 -2.1,2.3M499.2,596.7q-2.7,2.3 -5.4,5.7M470.1,635.2q-1.4,-0.0 -4.1,3.7M431.5,600.6q-0.9,-0.9 -2.4,2.5M421.4,601.8q-0.8,1.7 -3.1,5.1M474.4,617.6q1.9,-0.2 0.2,2.3M528.2,655.5q3.6,2.2 4.5,0.2M466.6,601.8q1.7,2.7 6.0,4.7M430.8,622.3q0.2,0.2 -2.3,0.3M517.5,636.7q2.7,0.3 5.5,4.9M414.7,619.7q-1.3,1.0 0.5,3.4M451.1,647.8q4.7,-1.7 6.4,0.0M522.1,637.5q-2.2,0.0 -3.2,1.0M530.6,627.6q-0.1,-0.0 1.8,3.9" fill="none" stroke="#b4b4b4" stroke-width="0.38" stroke-linecap="round" stroke-dasharray="1.6 0.5" opacity="0.62"/>
<rect x="515.1" y="659.9" width="16.8" height="1.1" fill="#c0c0c0"/>
<rect x="536.9" y="578.2" width="122.0" height="86.4" fill="#4e4e4e"/>
<rect x="536.9" y="578.2" width="122.0" height="86.4" filter="url(#nsem)" opacity="1"/>
<path clip-path="url(#cs10)" d="M550.7,647.3q1.3,1.9 4.7,5.9M598.2,595.5q3.2,4.9 3.0,7.1M612.1,653.6q-1.5,-1.5 -5.0,0.9M623.9,616.4q-3.0,0.0 -4.1,4.0M646.4,590.4q-0.7,2.9 0.3,3.7M652.2,601.1q-0.6,1.1 -1.6,3.0M558.3,593.2q2.9,1.0 5.9,4.5M644.0,660.3q-1.2,-0.6 0.4,2.4M578.6,587.5q1.5,2.8 2.3,2.2M625.9,613.4q0.1,1.7 1.3,4.7M546.1,602.5q-1.1,0.7 -2.3,0.2M639.0,597.6q0.6,0.9 2.1,2.3M649.6,648.4q-2.8,1.2 -1.5,0.6M642.8,618.3q-0.7,2.6 -0.4,1.4M634.7,649.0q-3.3,-1.4 -3.1,0.3M599.5,635.0q-2.4,1.7 -6.1,1.1M591.9,624.5q2.1,2.3 6.5,0.8M613.8,604.6q2.0,1.5 2.9,1.2M551.9,585.9q-0.7,1.4 -0.4,5.3M608.6,581.0q3.3,2.5 2.6,3.6M641.4,618.4q3.2,1.9 2.3,2.1M574.6,582.0q-0.3,1.9 0.0,5.9M616.3,654.6q-0.1,0.2 1.3,1.1M618.1,596.1q-2.5,0.6 -5.1,3.8M651.4,605.3q-2.5,1.9 -2.5,1.6M573.1,656.7q-1.2,1.0 0.0,2.7M616.1,656.5q0.6,3.0 3.6,1.8M555.4,584.4q3.7,2.1 4.0,0.8M623.9,660.4q-3.2,2.3 -3.6,0.8M625.5,582.8q-1.5,1.0 -2.0,3.4M558.5,580.4q3.2,-0.2 2.4,2.9M650.8,596.9q2.9,2.8 3.0,6.2M544.6,618.3q0.1,2.8 2.9,6.9M643.0,582.6q2.1,1.2 1.9,6.5M542.9,585.2q-0.4,2.1 -3.1,0.8M578.2,602.1q-3.8,1.3 -5.5,0.7M575.6,602.4q5.0,0.6 6.4,0.1M648.3,582.2q3.7,3.5 3.4,3.1M583.7,600.4q2.4,0.9 1.0,4.6M632.0,639.6q-2.3,1.0 -5.5,3.4M576.0,609.3q-2.1,1.7 -1.6,1.3M567.6,585.4q1.8,2.4 5.1,0.5M641.4,659.6q-1.1,0.7 1.4,1.5M621.2,616.1q2.1,2.2 3.1,2.8M625.7,648.3q0.9,0.1 -1.1,2.0M604.7,610.2q-2.1,-0.1 -1.9,2.0M556.7,651.3q-0.9,3.9 -0.9,3.5M597.7,598.8q-0.2,-0.1 -4.7,3.3M594.0,646.1q-5.3,0.9 -6.5,3.6M552.7,595.4q-0.7,-0.3 -5.3,0.4M639.4,616.3q4.2,0.7 4.5,4.8M608.1,630.0q-0.1,-0.1 3.0,2.5M568.5,628.4q-2.8,0.5 -1.3,2.5M617.6,595.1q2.1,1.4 1.6,2.3M546.2,588.4q1.4,0.6 1.6,4.8M557.9,636.1q-0.4,3.6 0.9,3.2M575.1,625.7q2.5,4.1 1.8,3.8M581.1,596.1q-3.1,2.8 -1.9,2.1M588.1,646.2q0.9,2.0 2.1,6.9M540.6,624.5q-3.4,3.9 -3.2,6.7M581.9,620.8q1.6,2.6 3.0,1.5M551.5,619.6q-4.5,0.6 -6.4,4.5M648.3,658.6q1.9,0.4 0.1,1.8M643.8,630.1q0.2,-0.6 -2.2,1.3M585.8,648.2q-2.4,0.2 -2.3,1.4M599.0,611.0q2.4,2.3 2.9,1.2M543.7,625.4q0.9,-1.1 -1.3,1.2M608.4,624.4q-1.0,2.0 -1.4,3.2M588.3,633.2q-1.7,2.7 0.7,4.3M595.7,599.1q-2.6,0.8 -4.8,4.4M593.8,588.8q0.2,0.6 4.0,1.7M598.1,583.5q0.6,2.1 -0.8,1.9M598.2,584.6q2.0,0.4 -0.0,4.0M638.3,660.3q-3.6,4.7 -4.5,5.1M596.0,657.1q0.0,2.2 -2.5,0.7M546.5,608.4q0.8,-0.1 -1.8,1.8M633.5,591.7q-1.3,2.7 -0.1,7.5M597.6,605.9q-0.2,2.1 2.7,0.3M617.7,652.2q1.2,1.8 5.7,3.3M612.7,609.1q-2.0,2.7 -4.7,2.0M551.0,660.0q0.5,0.8 -1.6,3.7M653.8,626.6q1.1,1.5 2.8,5.9M625.2,584.1q-0.7,3.0 -2.7,1.7M606.9,633.6q-1.6,-0.9 0.8,1.3M610.4,615.0q-1.8,2.5 -0.3,7.3M614.7,582.0q0.2,-0.6 3.8,0.0M564.9,627.1q0.2,1.2 -0.8,2.7M554.5,655.5q-0.9,1.5 1.8,1.7M640.0,643.1q-1.7,2.2 1.0,3.1M604.1,608.4q1.0,3.0 -1.9,3.9M567.7,652.8q2.0,-0.8 4.9,0.7M545.7,642.8q4.5,-1.5 5.1,0.2M562.0,629.1q1.3,1.4 -0.1,5.7M574.8,604.3q4.8,1.5 7.2,1.1M539.6,648.1q-0.5,1.4 -3.2,3.2M565.1,588.7q-0.1,1.7 1.3,1.2M619.5,648.2q-0.8,1.0 -2.0,2.5M630.4,622.3q4.0,0.9 3.8,4.2M641.0,581.4q2.1,3.1 2.1,2.2M625.5,606.5q-2.8,2.5 -3.4,1.3M612.1,635.9q-2.1,4.9 -3.9,6.8M619.8,649.1q0.9,2.2 1.2,6.1M563.5,630.3q2.0,-1.2 7.2,1.8M551.3,654.9q-1.5,-0.9 1.1,2.1M619.2,631.2q-3.7,3.0 -3.6,5.1M581.1,645.9q-5.0,3.6 -6.2,3.9M645.0,656.1q-0.4,-1.6 2.7,0.9M637.2,645.5q-0.8,2.2 -2.8,6.3M550.5,588.1q-1.8,0.6 -2.0,2.0M541.3,600.8q1.4,1.6 3.9,4.8M650.7,620.7q-4.5,0.9 -4.9,2.5M589.5,642.4q1.6,1.4 2.8,5.4M638.9,587.5q-3.3,-0.6 -2.2,1.4M627.3,658.8q2.3,1.3 4.7,0.1M560.3,620.0q0.5,5.0 3.2,6.1M571.8,597.5q-3.1,2.5 -2.8,3.8M548.3,643.5q-1.4,2.1 -3.8,5.4M585.4,611.9q0.7,-1.7 -1.9,0.7M562.8,601.4q-2.8,2.4 -4.5,1.5M566.0,617.3q0.8,3.8 -0.6,6.4" fill="none" stroke="#b4b4b4" stroke-width="0.38" stroke-linecap="round" stroke-dasharray="1.6 0.5" opacity="0.62"/>
<rect x="639.3" y="659.9" width="16.8" height="1.1" fill="#c0c0c0"/>
<rect x="412.3" y="667.0" width="122.4" height="85.6" fill="#4e4e4e"/>
<rect x="412.3" y="667.0" width="122.4" height="85.6" filter="url(#nsem)" opacity="1"/>
<path clip-path="url(#cs01)" d="M454.9,695.0q2.9,2.2 4.3,2.3M434.0,703.9q-3.1,1.1 -2.9,2.5M517.3,687.9q2.0,2.3 2.2,1.5M432.3,681.4q1.1,-0.5 2.0,2.0M452.5,684.1q-4.0,2.2 -4.4,0.3M426.1,699.6q-1.3,-0.2 -4.7,0.2M437.1,719.8q0.6,-1.7 2.2,0.8M460.7,732.0q-0.4,1.3 -2.0,2.9M430.8,717.1q2.5,1.8 1.3,4.3M481.1,728.6q1.3,2.8 0.6,2.3M504.4,724.7q-1.3,0.7 -3.8,1.9M450.7,719.0q2.8,1.4 3.0,1.0M487.6,688.9q0.9,1.2 0.8,3.2M492.9,743.0q3.0,0.6 3.5,2.2M471.3,746.6q0.3,1.5 3.6,0.4M523.8,710.3q2.0,1.5 3.6,1.2M473.9,719.9q-1.9,2.9 -3.1,1.8M438.8,723.5q-0.9,4.3 1.5,4.3M455.7,673.5q-1.1,0.8 2.0,2.4M463.3,724.6q-0.6,2.2 1.1,2.3M523.7,711.0q1.3,0.2 3.6,3.0M429.4,730.8q-1.8,1.4 -3.3,2.3M440.6,745.7q2.3,3.2 1.8,3.6M468.8,692.4q1.3,0.3 -0.3,2.0M513.3,690.3q0.2,-0.2 1.0,2.3M414.6,726.5q-0.1,0.9 1.6,1.9M464.2,719.7q1.2,2.9 -1.4,2.6M420.9,734.9q-3.8,2.1 -4.4,1.4M488.0,670.2q3.3,-1.0 5.3,0.2M426.1,680.4q1.0,0.0 3.4,3.1M519.5,732.0q2.7,2.5 4.4,2.5M492.1,740.2q-3.2,2.3 -3.8,3.0M476.1,728.1q0.7,1.4 1.0,4.9M441.6,680.1q-0.1,-0.7 0.0,1.7M471.5,708.7q-2.5,4.0 -0.6,4.9M468.8,713.8q-1.8,1.8 -2.4,4.2M526.1,675.0q-2.9,2.3 -1.7,3.7M493.8,743.1q1.4,2.3 2.8,4.7M518.8,671.7q-2.0,3.1 -2.5,3.1M456.9,706.8q-1.5,2.0 -0.4,4.6M463.5,713.1q0.3,0.3 -2.3,1.4M472.9,690.6q0.6,4.0 -0.1,5.4M452.8,694.2q1.7,2.8 2.3,3.1M419.0,726.5q-3.7,-0.2 -3.4,1.3M415.0,684.1q-1.2,1.8 -3.8,1.0M520.2,717.7q0.1,2.3 -1.4,3.7M493.6,685.9q0.3,-0.3 -1.7,2.9M435.4,671.9q-1.3,1.1 -3.9,3.4M510.1,731.6q-1.1,0.9 -0.5,2.5M451.4,703.3q-3.1,2.7 -2.3,4.7M418.9,678.5q0.3,0.8 -3.1,2.1M415.9,699.8q1.4,2.4 -1.5,5.0M462.3,677.1q-2.0,-1.1 -1.0,2.1M414.9,723.4q0.7,2.6 5.0,2.0M429.3,670.4q0.2,-0.4 -1.6,1.9M420.1,730.6q-0.5,0.1 -3.1,3.9M487.5,725.5q-0.8,4.6 0.6,5.2M497.8,669.9q3.4,-1.8 4.1,0.2M450.5,727.1q2.1,-0.7 4.3,2.5M457.1,714.8q-1.2,3.4 0.8,4.1M456.6,720.3q-1.1,2.7 -1.3,2.9M524.3,731.5q-2.2,3.4 -0.6,2.6M496.2,734.9q3.1,3.2 2.0,3.4M484.3,693.6q0.0,3.3 1.1,4.9M484.3,740.3q-3.3,-0.3 -2.2,1.5M463.5,715.7q-4.1,2.8 -4.2,2.8M508.8,738.0q1.3,2.6 -0.6,2.5M494.0,741.7q0.7,2.1 0.9,1.6M437.6,728.7q-0.7,1.0 -2.4,0.5M468.5,685.4q2.9,1.4 3.1,3.2M424.5,733.2q-0.6,2.5 -1.8,1.6M517.3,710.5q-1.2,0.6 0.3,3.8M435.3,724.8q0.4,1.8 1.6,3.4M431.6,672.5q-3.2,0.6 -3.0,0.0M505.9,681.4q-0.3,-0.7 -0.9,2.7M418.2,747.8q-1.3,-0.3 -3.1,1.4M505.0,702.9q-0.8,2.4 -4.5,0.8M443.9,672.0q-0.9,-1.3 1.8,1.3M479.2,738.3q2.1,0.7 0.7,5.2M483.9,700.6q1.4,1.3 5.0,2.0M488.9,745.1q-1.0,-0.2 -1.6,2.6M526.7,747.9q-0.4,-0.1 1.3,1.1M519.4,741.0q0.5,1.3 -1.5,0.8M489.6,747.4q2.1,2.1 2.0,0.4M493.1,692.8q-2.4,1.4 -1.3,4.3M444.2,678.9q-1.1,-0.5 0.1,2.2M493.2,670.0q-2.8,2.8 -1.4,1.8M440.0,743.3q-3.9,0.8 -4.6,2.1M425.6,742.9q-2.0,0.2 -3.5,1.9M510.1,707.0q-1.6,-1.0 -0.8,1.9M497.4,713.0q1.2,0.7 4.5,2.2M432.4,690.6q-2.7,0.6 -2.5,1.4M451.3,740.9q0.6,2.7 5.1,1.9M492.1,685.8q-1.0,0.0 0.2,2.6M456.7,747.9q-4.4,-0.9 -5.2,0.0M518.6,673.6q1.2,-1.1 -1.7,2.0M508.2,696.1q2.1,0.4 1.4,0.6M435.9,703.6q-0.8,-1.3 -2.3,0.6M435.3,730.3q-2.6,-0.9 -1.4,1.8M485.1,708.4q1.3,1.8 1.5,1.8M508.8,715.4q1.7,0.1 1.4,1.0M498.3,673.4q0.3,2.4 -2.4,1.6M471.7,670.2q0.0,-0.6 -3.3,0.9M436.0,735.2q-0.1,1.4 0.9,2.0M414.8,710.4q-1.4,2.7 0.6,3.5M509.3,737.9q0.6,2.9 2.3,3.7M421.4,738.5q-1.7,0.4 -3.4,0.5M476.8,670.6q-2.6,-1.6 -2.4,0.2M443.5,734.0q1.8,-1.3 1.9,0.2M416.4,716.7q0.5,-0.0 -0.9,3.5M515.5,726.1q1.0,0.1 2.0,0.3M446.8,678.7q0.7,2.6 0.6,2.0M431.4,714.6q0.7,2.7 -1.5,1.5M459.5,702.5q-2.0,2.8 -3.2,1.7M504.7,695.9q0.8,3.1 2.1,1.9M507.9,741.7q-4.0,1.4 -4.1,2.7M525.8,743.4q1.7,0.5 2.3,2.2M476.1,674.5q-1.7,0.1 0.7,3.4M527.2,730.8q-0.6,2.1 -4.0,0.8M517.3,671.7q0.2,0.2 -1.1,2.3M477.4,742.6q-0.4,0.9 -0.9,2.3M525.0,691.9q-0.5,2.1 2.3,3.3M525.6,709.9q1.3,-0.3 2.2,2.5M428.7,679.5q0.0,0.1 1.9,2.5M424.5,712.5q-1.4,1.6 -3.5,1.9M437.7,725.5q0.7,1.7 0.5,3.7M450.4,688.3q0.8,1.5 2.7,2.3M415.7,697.1q-0.9,0.5 -2.2,1.0M447.5,747.6q-0.1,-0.1 2.7,3.7M515.7,704.0q1.2,1.3 3.0,0.6M427.0,686.9q-3.7,-0.4 -4.4,0.6M455.3,722.8q0.5,2.4 -1.8,4.6M500.3,728.2q0.0,2.1 -2.5,2.3M520.8,679.1q0.5,0.7 -1.4,0.6M472.3,745.6q0.9,3.2 -0.7,3.1M485.0,699.2q1.2,0.7 0.5,3.3M459.8,713.2q1.8,2.8 1.0,2.6M472.4,704.3q-0.4,1.1 2.3,1.5M482.0,676.0q0.2,1.8 -2.7,0.7M525.9,685.3q-1.6,0.5 1.2,5.0M480.1,708.6q-2.1,2.8 -4.5,1.1M474.5,710.2q-1.5,1.7 -1.7,2.6M455.2,744.5q-2.7,1.0 -1.9,3.1M461.0,713.7q1.5,2.4 -1.2,4.9M465.5,718.7q-1.3,1.4 -2.9,0.0M434.2,694.3q-2.3,-1.6 -4.8,0.3M518.4,723.9q-0.6,1.1 -4.6,2.9M432.5,692.1q-1.4,0.4 -0.1,3.5M487.6,717.0q1.8,0.4 2.4,4.9M462.2,731.7q-1.0,0.9 2.4,3.5" fill="none" stroke="#b4b4b4" stroke-width="0.38" stroke-linecap="round" stroke-dasharray="1.6 0.5" opacity="0.62"/>
<rect x="515.1" y="747.9" width="16.8" height="1.1" fill="#c0c0c0"/>
<rect x="536.9" y="667.0" width="122.0" height="85.6" fill="#4e4e4e"/>
<rect x="536.9" y="667.0" width="122.0" height="85.6" filter="url(#nsem)" opacity="1"/>
<path clip-path="url(#cs11)" d="M636.6,715.7q-0.7,1.4 -1.4,2.4M569.8,720.5q-0.1,3.6 -0.8,7.9M553.0,681.5q-2.6,-0.7 -1.6,1.5M599.5,734.5q-3.1,1.0 -2.3,6.3M628.3,694.7q-2.6,0.5 -2.4,3.0M550.4,740.9q-0.7,1.3 -1.0,3.6M545.2,739.9q-1.3,4.3 -2.0,7.5M567.8,672.5q-4.3,2.5 -6.9,1.5" fill="none" stroke="#b4b4b4" stroke-width="0.38" stroke-linecap="round" stroke-dasharray="1.6 0.5" opacity="0.62"/>
<rect x="639.3" y="747.9" width="16.8" height="1.1" fill="#c0c0c0"/>
<rect x="634" y="733" width="26" height="11" fill="#fff"/>
<text x="634.80" y="741.00" font-size="8.0" stroke="#111" stroke-width="0.176" textLength="21.40" lengthAdjust="spacingAndGlyphs">20 μm</text>
<text x="336.30" y="392.00" font-size="8.4" stroke="#111" stroke-width="0.185" textLength="8.70" lengthAdjust="spacingAndGlyphs">B)</text>
<rect x="346.4" y="383.6" width="152" height="108.6" fill="#fff" stroke="#d0d0d0" stroke-width="0.7"/>
<path d="M369.1,389.7 V470.4 H493.1" fill="none" stroke="#444" stroke-width="0.9"/>
<path d="M369.1,470.40h-2.6M369.1,467.71h-1.4M369.1,465.02h-1.4M369.1,462.33h-1.4M369.1,459.64h-1.4M369.1,456.95h-1.4M369.1,454.26h-1.4M369.1,451.57h-1.4M369.1,448.88h-1.4M369.1,446.19h-1.4M369.1,443.50h-2.6M369.1,440.81h-1.4M369.1,438.12h-1.4M369.1,435.43h-1.4M369.1,432.74h-1.4M369.1,430.05h-1.4M369.1,427.36h-1.4M369.1,424.67h-1.4M369.1,421.98h-1.4M369.1,419.29h-1.4M369.1,416.60h-2.6M369.1,413.91h-1.4M369.1,411.22h-1.4M369.1,408.53h-1.4M369.1,405.84h-1.4M369.1,403.15h-1.4M369.1,400.46h-1.4M369.1,397.77h-1.4M369.1,395.08h-1.4M369.1,392.39h-1.4M369.1,389.70h-2.6M371.74,470.4v1.4M377.01,470.4v1.4M382.29,470.4v1.4M387.56,470.4v2.6M392.84,470.4v1.4M398.11,470.4v1.4M403.39,470.4v1.4M408.66,470.4v1.4M413.94,470.4v2.6M419.21,470.4v1.4M424.49,470.4v1.4M429.76,470.4v1.4M435.04,470.4v1.4M440.31,470.4v2.6M445.59,470.4v1.4M450.86,470.4v1.4M456.14,470.4v1.4M461.41,470.4v1.4M466.69,470.4v2.6M471.96,470.4v1.4M477.24,470.4v1.4M482.51,470.4v1.4M487.79,470.4v1.4M493.06,470.4v2.6" stroke="#444" stroke-width="0.5" fill="none"/>
<text x="365.50" y="391.90" font-size="6.2" stroke="#3a3a3a" stroke-width="0.136" fill="#3a3a3a" text-anchor="end">0.3</text>
<text x="365.50" y="418.80" font-size="6.2" stroke="#3a3a3a" stroke-width="0.136" fill="#3a3a3a" text-anchor="end">0.2</text>
<text x="365.50" y="445.70" font-size="6.2" stroke="#3a3a3a" stroke-width="0.136" fill="#3a3a3a" text-anchor="end">0.1</text>
<text x="365.50" y="472.60" font-size="6.2" stroke="#3a3a3a" stroke-width="0.136" fill="#3a3a3a" text-anchor="end">0</text>
<text x="387.56" y="480.80" font-size="6.2" stroke="#3a3a3a" stroke-width="0.136" fill="#3a3a3a" text-anchor="middle">400</text>
<text x="413.94" y="480.80" font-size="6.2" stroke="#3a3a3a" stroke-width="0.136" fill="#3a3a3a" text-anchor="middle">500</text>
<text x="440.31" y="480.80" font-size="6.2" stroke="#3a3a3a" stroke-width="0.136" fill="#3a3a3a" text-anchor="middle">600</text>
<text x="466.69" y="480.80" font-size="6.2" stroke="#3a3a3a" stroke-width="0.136" fill="#3a3a3a" text-anchor="middle">700</text>
<text x="493.06" y="480.80" font-size="6.2" stroke="#3a3a3a" stroke-width="0.136" fill="#3a3a3a" text-anchor="middle">800</text>
<text x="433.00" y="489.60" font-size="6.4" stroke="#222" stroke-width="0.141" fill="#222" text-anchor="middle">λ (nm)</text>
<text x="0.00" y="0.00" font-size="6.4" stroke="#222" stroke-width="0.141" fill="#222" text-anchor="middle" transform="translate(354.4,428.5) rotate(-90)">Abs. (AU)</text>
<polyline points="369.10,428.44 369.89,430.32 371.21,432.47 373.06,434.08 375.69,435.16 379.65,435.70 387.56,436.77 395.48,437.58 403.39,437.85 408.66,437.58 412.62,436.24 416.58,433.55 420.53,430.05 424.49,426.82 428.44,424.40 431.61,423.32 435.04,423.86 438.99,426.01 442.95,429.51 448.23,434.62 453.50,439.20 460.09,443.77 466.69,446.73 474.60,449.15 482.51,450.76 493.06,452.11" fill="none" stroke="#3c9b46" stroke-width="1.0" stroke-linejoin="round"/>
<polyline points="369.10,452.65 370.16,454.80 371.74,456.95 373.85,458.29 377.01,459.10 387.56,459.64 413.94,459.91 440.31,460.18 466.69,459.91 493.06,459.64" fill="none" stroke="#e3a23e" stroke-width="0.9" stroke-linejoin="round"/>
<rect x="434.2" y="389.8" width="61" height="15.2" fill="#fff" stroke="#bdbdbd" stroke-width="0.6"/>
<line x1="436.6" y1="394" x2="446" y2="394" stroke="#3c9b46" stroke-width="1"/>
<line x1="436.6" y1="400.6" x2="446" y2="400.6" stroke="#e3a23e" stroke-width="1"/>
<text x="448.40" y="395.60" font-size="4.6" textLength="41.00" lengthAdjust="spacingAndGlyphs" fill="#444">Au@mZrO<tspan baseline-shift="-0.24em" font-size="70%">2</tspan> - 1 mm/s</text>
<text x="448.40" y="402.20" font-size="4.6" textLength="33.00" lengthAdjust="spacingAndGlyphs" fill="#444">mZrO<tspan baseline-shift="-0.24em" font-size="70%">2</tspan> - 1 mm/s</text>
<text x="501.00" y="392.00" font-size="8.4" stroke="#111" stroke-width="0.185" textLength="7.60" lengthAdjust="spacingAndGlyphs">C)</text>
<path d="M512.2,384 V492.3 H663.5 V384" fill="none" stroke="#dcdcdc" stroke-width="0.9"/>
<path d="M540.6,389.4 V471.4 H659.2" fill="none" stroke="#444" stroke-width="0.9"/>
<path d="M540.60,471.4v2.6M543.57,471.4v1.4M546.53,471.4v1.4M549.50,471.4v1.4M552.46,471.4v1.4M555.43,471.4v1.4M558.39,471.4v1.4M561.36,471.4v1.4M564.32,471.4v1.4M567.28,471.4v1.4M570.25,471.4v2.6M573.22,471.4v1.4M576.18,471.4v1.4M579.14,471.4v1.4M582.11,471.4v1.4M585.08,471.4v1.4M588.04,471.4v1.4M591.00,471.4v1.4M593.97,471.4v1.4M596.94,471.4v1.4M599.90,471.4v2.6M602.87,471.4v1.4M605.83,471.4v1.4M608.80,471.4v1.4M611.76,471.4v1.4M614.73,471.4v1.4M617.69,471.4v1.4M620.65,471.4v1.4M623.62,471.4v1.4M626.59,471.4v1.4M629.55,471.4v2.6M632.51,471.4v1.4M635.48,471.4v1.4M638.44,471.4v1.4M641.41,471.4v1.4M644.38,471.4v1.4M647.34,471.4v1.4M650.31,471.4v1.4M653.27,471.4v1.4M656.24,471.4v1.4M659.20,471.4v2.6M540.6,396h-1.6M540.6,404h-1.6M540.6,414h-1.6M540.6,427h-1.6M540.6,448.6h-1.6M540.6,456h-1.6M540.6,462h-1.6M540.6,467h-1.6M540.6,448.6h-2.8" stroke="#444" stroke-width="0.5" fill="none"/>
<text x="540.60" y="481.20" font-size="6.2" stroke="#3a3a3a" stroke-width="0.136" fill="#3a3a3a" text-anchor="middle">0.3</text>
<text x="570.25" y="481.20" font-size="6.2" stroke="#3a3a3a" stroke-width="0.136" fill="#3a3a3a" text-anchor="middle">0.35</text>
<text x="599.90" y="481.20" font-size="6.2" stroke="#3a3a3a" stroke-width="0.136" fill="#3a3a3a" text-anchor="middle">0.4</text>
<text x="629.55" y="481.20" font-size="6.2" stroke="#3a3a3a" stroke-width="0.136" fill="#3a3a3a" text-anchor="middle">0.45</text>
<text x="659.20" y="481.20" font-size="6.2" stroke="#3a3a3a" stroke-width="0.136" fill="#3a3a3a" text-anchor="middle">0.5</text>
<text x="537.20" y="450.80" font-size="6.2" stroke="#3a3a3a" stroke-width="0.136" fill="#3a3a3a" text-anchor="end">1e+06</text>
<text x="600.00" y="490.40" font-size="6.4" stroke="#222" stroke-width="0.141" fill="#222" text-anchor="middle">2θ (°)</text>
<text x="0.00" y="0.00" font-size="6.4" stroke="#222" stroke-width="0.141" fill="#222" text-anchor="middle" transform="translate(520,430) rotate(-90)">I (AU)</text>
<polyline points="540.6,404.2 555.0,401.6 570.0,399.6 585.0,398.2 594.0,397.9 600.3,398.5 606.0,400.6 612.0,405.2 618.0,411.6 622.0,416.4 625.8,421.2 629.0,427.0 632.0,433.6 635.4,440.2 640.0,446.8 644.5,453.6 648.0,460.0 651.0,467.0 653.2,471.4" fill="none" stroke="#333" stroke-width="0.8" stroke-linejoin="round"/>
<polyline points="540.6,404.0 555.0,401.4 570.0,399.3 585.0,397.6 600.0,396.6 610.0,396.4 617.2,396.8 624.0,397.8 630.2,399.8 635.0,403.4 639.3,408.8 643.0,415.0 646.6,421.8 649.0,426.4 651.4,430.0 655.0,434.6 659.8,440.4" fill="none" stroke="#d9434a" stroke-width="0.8" stroke-linejoin="round"/>
<circle cx="625.8" cy="421.2" r="1.3" fill="#fff" stroke="#333" stroke-width="0.5"/>
<circle cx="646.6" cy="421.8" r="1.3" fill="#fff" stroke="#d9434a" stroke-width="0.5"/>
<rect x="542" y="455.2" width="54" height="15.4" fill="#fff" stroke="#bdbdbd" stroke-width="0.6"/>
<line x1="544" y1="459.6" x2="552.4" y2="459.6" stroke="#333" stroke-width="0.8"/>
<line x1="544" y1="466.2" x2="552.4" y2="466.2" stroke="#d9434a" stroke-width="0.8"/>
<text x="555.40" y="461.20" font-size="4.5" textLength="29.00" lengthAdjust="spacingAndGlyphs" fill="#444">2 mm/s mZrO<tspan baseline-shift="-0.24em" font-size="70%">2</tspan></text>
<text x="555.40" y="467.80" font-size="4.5" textLength="38.00" lengthAdjust="spacingAndGlyphs" fill="#444">2 mm/s Au@mZrO<tspan baseline-shift="-0.24em" font-size="70%">2</tspan></text>
<path d="M19.4,565 H34.2 V603.6 L27.8,612.2 H25.8 L19.4,603.6 Z" fill="url(#gtube)" stroke="#9aa6b5" stroke-width="0.5"/>
<path d="M19.9,575.8 H33.7 V603.4 L27.6,611.6 H26 L19.9,603.4 Z" fill="url(#gliq)"/>
<path d="M20.6,580h2.6M20.6,584h2.6M20.6,588h2.6M20.6,592h2.6M20.6,596h2.6M20.6,600h2.6" stroke="#8d9fb5" stroke-width="0.35"/>
<rect x="17.8" y="557.4" width="17.9" height="8.2" rx="0.8" fill="url(#gcap)"/>
<rect x="17.8" y="557.4" width="17.9" height="1.3" fill="#f0a070" opacity="0.8"/>
<line x1="36.9" y1="584.2" x2="77.6" y2="556.2" stroke="#3f74c8" stroke-width="1.5" marker-end="url(#ahb)"/>
<line x1="36.9" y1="584.2" x2="75.4" y2="608.4" stroke="#3f8fdc" stroke-width="1.5" marker-end="url(#ahb)"/>
<path d="M78.7,552.5 L113.2,542 Q117.5,541.2 121.6,546.6 L124,556.6 L87,571.6 Z" fill="#e6e6e6" stroke="#cfcfcf" stroke-width="0.6"/><ellipse cx="84.6" cy="553.0" rx="2.5" ry="1.9" fill="#ededed" stroke="#d2d2d2" stroke-width="0.5"/><ellipse cx="90.2" cy="551.3" rx="2.5" ry="1.9" fill="#ededed" stroke="#d2d2d2" stroke-width="0.5"/><ellipse cx="95.8" cy="549.6" rx="2.5" ry="1.9" fill="#ededed" stroke="#d2d2d2" stroke-width="0.5"/><ellipse cx="101.4" cy="547.9" rx="2.5" ry="1.9" fill="#ededed" stroke="#d2d2d2" stroke-width="0.5"/><ellipse cx="107.0" cy="546.2" rx="2.5" ry="1.9" fill="#ededed" stroke="#d2d2d2" stroke-width="0.5"/><ellipse cx="112.6" cy="544.5" rx="2.5" ry="1.9" fill="#ededed" stroke="#d2d2d2" stroke-width="0.5"/><ellipse cx="86.5" cy="557.1" rx="2.5" ry="1.9" fill="#ededed" stroke="#d2d2d2" stroke-width="0.5"/><ellipse cx="92.1" cy="555.4" rx="2.5" ry="1.9" fill="#ededed" stroke="#d2d2d2" stroke-width="0.5"/><ellipse cx="97.7" cy="553.7" rx="2.5" ry="1.9" fill="#ededed" stroke="#d2d2d2" stroke-width="0.5"/><ellipse cx="103.3" cy="552.0" rx="2.5" ry="1.9" fill="#ededed" stroke="#d2d2d2" stroke-width="0.5"/><ellipse cx="108.9" cy="550.3" rx="2.5" ry="1.9" fill="#ededed" stroke="#d2d2d2" stroke-width="0.5"/><ellipse cx="114.5" cy="548.6" rx="2.5" ry="1.9" fill="#ededed" stroke="#d2d2d2" stroke-width="0.5"/><ellipse cx="88.4" cy="561.2" rx="2.5" ry="1.9" fill="#ededed" stroke="#d2d2d2" stroke-width="0.5"/><ellipse cx="94.0" cy="559.5" rx="2.5" ry="1.9" fill="#ededed" stroke="#d2d2d2" stroke-width="0.5"/><ellipse cx="99.6" cy="557.8" rx="2.5" ry="1.9" fill="#ededed" stroke="#d2d2d2" stroke-width="0.5"/><ellipse cx="105.2" cy="556.1" rx="2.5" ry="1.9" fill="#ededed" stroke="#d2d2d2" stroke-width="0.5"/><ellipse cx="110.8" cy="554.4" rx="2.5" ry="1.9" fill="#ededed" stroke="#d2d2d2" stroke-width="0.5"/><ellipse cx="116.4" cy="552.7" rx="2.5" ry="1.9" fill="#ededed" stroke="#d2d2d2" stroke-width="0.5"/><ellipse cx="90.3" cy="565.3" rx="2.5" ry="1.9" fill="#ededed" stroke="#d2d2d2" stroke-width="0.5"/><ellipse cx="95.9" cy="563.6" rx="2.5" ry="1.9" fill="#ededed" stroke="#d2d2d2" stroke-width="0.5"/><ellipse cx="101.5" cy="561.9" rx="2.5" ry="1.9" fill="#ededed" stroke="#d2d2d2" stroke-width="0.5"/><ellipse cx="107.1" cy="560.2" rx="2.5" ry="1.9" fill="#ededed" stroke="#d2d2d2" stroke-width="0.5"/><ellipse cx="112.7" cy="558.5" rx="2.5" ry="1.9" fill="#ededed" stroke="#d2d2d2" stroke-width="0.5"/><ellipse cx="118.3" cy="556.8" rx="2.5" ry="1.9" fill="#ededed" stroke="#d2d2d2" stroke-width="0.5"/><polygon points="87.4,573.6 123.4,588.2 123.4,591.6 87.4,577.0" fill="#bdbdbd" stroke="#8e8e8e" stroke-width="0.5"/><polygon points="135.2,568.6 123.4,588.2 123.4,591.6 135.2,572.0" fill="#d4d4d4" stroke="#9a9a9a" stroke-width="0.5"/><polygon points="99.2,554.0 87.4,573.6 87.4,577.0 99.2,557.4" fill="#cfcfcf" stroke="#9a9a9a" stroke-width="0.4"/><polygon points="99.2,554.0 135.2,568.6 123.4,588.2 87.4,573.6" fill="#e4e4e4" stroke="#8c8c8c" stroke-width="0.6"/><polygon points="99.9,555.8 133.1,569.2 122.7,586.4 89.5,573.0" fill="#d0d0d0" stroke="#a6a6a6" stroke-width="0.4"/><ellipse cx="102.0" cy="560.7" rx="2.7" ry="2.1" fill="#a9a9a9"/><ellipse cx="102.0" cy="559.8" rx="2.7" ry="2.0" fill="#f2f2f2" stroke="#8a8a8a" stroke-width="0.5"/><ellipse cx="102.3" cy="560.3" rx="1.5" ry="1.0" fill="#dadada"/><ellipse cx="107.2" cy="562.8" rx="2.7" ry="2.1" fill="#a9a9a9"/><ellipse cx="107.2" cy="561.9" rx="2.7" ry="2.0" fill="#f2f2f2" stroke="#8a8a8a" stroke-width="0.5"/><ellipse cx="107.5" cy="562.4" rx="1.5" ry="1.0" fill="#dadada"/><ellipse cx="112.3" cy="564.9" rx="2.7" ry="2.1" fill="#a9a9a9"/><ellipse cx="112.3" cy="564.0" rx="2.7" ry="2.0" fill="#f2f2f2" stroke="#8a8a8a" stroke-width="0.5"/><ellipse cx="112.6" cy="564.5" rx="1.5" ry="1.0" fill="#dadada"/><ellipse cx="117.5" cy="567.0" rx="2.7" ry="2.1" fill="#a9a9a9"/><ellipse cx="117.5" cy="566.1" rx="2.7" ry="2.0" fill="#f2f2f2" stroke="#8a8a8a" stroke-width="0.5"/><ellipse cx="117.8" cy="566.6" rx="1.5" ry="1.0" fill="#dadada"/><ellipse cx="122.7" cy="569.1" rx="2.7" ry="2.1" fill="#a9a9a9"/><ellipse cx="122.7" cy="568.2" rx="2.7" ry="2.0" fill="#f2f2f2" stroke="#8a8a8a" stroke-width="0.5"/><ellipse cx="123.0" cy="568.7" rx="1.5" ry="1.0" fill="#dadada"/><ellipse cx="127.8" cy="571.2" rx="2.7" ry="2.1" fill="#a9a9a9"/><ellipse cx="127.8" cy="570.3" rx="2.7" ry="2.0" fill="#f2f2f2" stroke="#8a8a8a" stroke-width="0.5"/><ellipse cx="128.1" cy="570.8" rx="1.5" ry="1.0" fill="#dadada"/><ellipse cx="99.6" cy="564.8" rx="2.7" ry="2.1" fill="#a9a9a9"/><ellipse cx="99.6" cy="563.9" rx="2.7" ry="2.0" fill="#f2f2f2" stroke="#8a8a8a" stroke-width="0.5"/><ellipse cx="99.9" cy="564.4" rx="1.5" ry="1.0" fill="#dadada"/><ellipse cx="104.8" cy="566.9" rx="2.7" ry="2.1" fill="#a9a9a9"/><ellipse cx="104.8" cy="566.0" rx="2.7" ry="2.0" fill="#f2f2f2" stroke="#8a8a8a" stroke-width="0.5"/><ellipse cx="105.1" cy="566.5" rx="1.5" ry="1.0" fill="#dadada"/><ellipse cx="109.9" cy="568.9" rx="2.7" ry="2.1" fill="#a9a9a9"/><ellipse cx="109.9" cy="568.0" rx="2.7" ry="2.0" fill="#f2f2f2" stroke="#8a8a8a" stroke-width="0.5"/><ellipse cx="110.2" cy="568.5" rx="1.5" ry="1.0" fill="#dadada"/><ellipse cx="115.1" cy="571.0" rx="2.7" ry="2.1" fill="#a9a9a9"/><ellipse cx="115.1" cy="570.1" rx="2.7" ry="2.0" fill="#f2f2f2" stroke="#8a8a8a" stroke-width="0.5"/><ellipse cx="115.4" cy="570.6" rx="1.5" ry="1.0" fill="#dadada"/><ellipse cx="120.2" cy="573.1" rx="2.7" ry="2.1" fill="#a9a9a9"/><ellipse cx="120.2" cy="572.2" rx="2.7" ry="2.0" fill="#f2f2f2" stroke="#8a8a8a" stroke-width="0.5"/><ellipse cx="120.5" cy="572.7" rx="1.5" ry="1.0" fill="#dadada"/><ellipse cx="125.4" cy="575.2" rx="2.7" ry="2.1" fill="#a9a9a9"/><ellipse cx="125.4" cy="574.3" rx="2.7" ry="2.0" fill="#f2f2f2" stroke="#8a8a8a" stroke-width="0.5"/><ellipse cx="125.7" cy="574.8" rx="1.5" ry="1.0" fill="#dadada"/><ellipse cx="97.2" cy="568.8" rx="2.7" ry="2.1" fill="#a9a9a9"/><ellipse cx="97.2" cy="567.9" rx="2.7" ry="2.0" fill="#f2f2f2" stroke="#8a8a8a" stroke-width="0.5"/><ellipse cx="97.5" cy="568.4" rx="1.5" ry="1.0" fill="#dadada"/><ellipse cx="102.4" cy="570.9" rx="2.7" ry="2.1" fill="#a9a9a9"/><ellipse cx="102.4" cy="570.0" rx="2.7" ry="2.0" fill="#f2f2f2" stroke="#8a8a8a" stroke-width="0.5"/><ellipse cx="102.7" cy="570.5" rx="1.5" ry="1.0" fill="#dadada"/><ellipse cx="107.5" cy="573.0" rx="2.7" ry="2.1" fill="#a9a9a9"/><ellipse cx="107.5" cy="572.1" rx="2.7" ry="2.0" fill="#f2f2f2" stroke="#8a8a8a" stroke-width="0.5"/><ellipse cx="107.8" cy="572.6" rx="1.5" ry="1.0" fill="#dadada"/><ellipse cx="112.7" cy="575.1" rx="2.7" ry="2.1" fill="#a9a9a9"/><ellipse cx="112.7" cy="574.2" rx="2.7" ry="2.0" fill="#f2f2f2" stroke="#8a8a8a" stroke-width="0.5"/><ellipse cx="113.0" cy="574.7" rx="1.5" ry="1.0" fill="#dadada"/><ellipse cx="117.8" cy="577.1" rx="2.7" ry="2.1" fill="#a9a9a9"/><ellipse cx="117.8" cy="576.2" rx="2.7" ry="2.0" fill="#f2f2f2" stroke="#8a8a8a" stroke-width="0.5"/><ellipse cx="118.1" cy="576.7" rx="1.5" ry="1.0" fill="#dadada"/><ellipse cx="123.0" cy="579.2" rx="2.7" ry="2.1" fill="#a9a9a9"/><ellipse cx="123.0" cy="578.3" rx="2.7" ry="2.0" fill="#f2f2f2" stroke="#8a8a8a" stroke-width="0.5"/><ellipse cx="123.3" cy="578.8" rx="1.5" ry="1.0" fill="#dadada"/><ellipse cx="94.8" cy="572.8" rx="2.7" ry="2.1" fill="#a9a9a9"/><ellipse cx="94.8" cy="571.9" rx="2.7" ry="2.0" fill="#f2f2f2" stroke="#8a8a8a" stroke-width="0.5"/><ellipse cx="95.1" cy="572.4" rx="1.5" ry="1.0" fill="#dadada"/><ellipse cx="99.9" cy="574.9" rx="2.7" ry="2.1" fill="#a9a9a9"/><ellipse cx="99.9" cy="574.0" rx="2.7" ry="2.0" fill="#f2f2f2" stroke="#8a8a8a" stroke-width="0.5"/><ellipse cx="100.2" cy="574.5" rx="1.5" ry="1.0" fill="#dadada"/><ellipse cx="105.1" cy="577.0" rx="2.7" ry="2.1" fill="#a9a9a9"/><ellipse cx="105.1" cy="576.1" rx="2.7" ry="2.0" fill="#f2f2f2" stroke="#8a8a8a" stroke-width="0.5"/><ellipse cx="105.4" cy="576.6" rx="1.5" ry="1.0" fill="#dadada"/><ellipse cx="110.3" cy="579.1" rx="2.7" ry="2.1" fill="#a9a9a9"/><ellipse cx="110.3" cy="578.2" rx="2.7" ry="2.0" fill="#f2f2f2" stroke="#8a8a8a" stroke-width="0.5"/><ellipse cx="110.6" cy="578.7" rx="1.5" ry="1.0" fill="#dadada"/><ellipse cx="115.4" cy="581.2" rx="2.7" ry="2.1" fill="#a9a9a9"/><ellipse cx="115.4" cy="580.3" rx="2.7" ry="2.0" fill="#f2f2f2" stroke="#8a8a8a" stroke-width="0.5"/><ellipse cx="115.7" cy="580.8" rx="1.5" ry="1.0" fill="#dadada"/><ellipse cx="120.6" cy="583.3" rx="2.7" ry="2.1" fill="#a9a9a9"/><ellipse cx="120.6" cy="582.4" rx="2.7" ry="2.0" fill="#f2f2f2" stroke="#8a8a8a" stroke-width="0.5"/><ellipse cx="120.9" cy="582.9" rx="1.5" ry="1.0" fill="#dadada"/>
<path d="M78.7,621.5 L113.2,611.0 Q117.5,610.2 121.6,615.6 L124,625.6 L87,640.6 Z" fill="#e6e6e6" stroke="#cfcfcf" stroke-width="0.6"/><ellipse cx="84.6" cy="622.0" rx="2.5" ry="1.9" fill="#ededed" stroke="#d2d2d2" stroke-width="0.5"/><ellipse cx="90.2" cy="620.3" rx="2.5" ry="1.9" fill="#ededed" stroke="#d2d2d2" stroke-width="0.5"/><ellipse cx="95.8" cy="618.6" rx="2.5" ry="1.9" fill="#ededed" stroke="#d2d2d2" stroke-width="0.5"/><ellipse cx="101.4" cy="616.9" rx="2.5" ry="1.9" fill="#ededed" stroke="#d2d2d2" stroke-width="0.5"/><ellipse cx="107.0" cy="615.2" rx="2.5" ry="1.9" fill="#ededed" stroke="#d2d2d2" stroke-width="0.5"/><ellipse cx="112.6" cy="613.5" rx="2.5" ry="1.9" fill="#ededed" stroke="#d2d2d2" stroke-width="0.5"/><ellipse cx="86.5" cy="626.1" rx="2.5" ry="1.9" fill="#ededed" stroke="#d2d2d2" stroke-width="0.5"/><ellipse cx="92.1" cy="624.4" rx="2.5" ry="1.9" fill="#ededed" stroke="#d2d2d2" stroke-width="0.5"/><ellipse cx="97.7" cy="622.7" rx="2.5" ry="1.9" fill="#ededed" stroke="#d2d2d2" stroke-width="0.5"/><ellipse cx="103.3" cy="621.0" rx="2.5" ry="1.9" fill="#ededed" stroke="#d2d2d2" stroke-width="0.5"/><ellipse cx="108.9" cy="619.3" rx="2.5" ry="1.9" fill="#ededed" stroke="#d2d2d2" stroke-width="0.5"/><ellipse cx="114.5" cy="617.6" rx="2.5" ry="1.9" fill="#ededed" stroke="#d2d2d2" stroke-width="0.5"/><ellipse cx="88.4" cy="630.2" rx="2.5" ry="1.9" fill="#ededed" stroke="#d2d2d2" stroke-width="0.5"/><ellipse cx="94.0" cy="628.5" rx="2.5" ry="1.9" fill="#ededed" stroke="#d2d2d2" stroke-width="0.5"/><ellipse cx="99.6" cy="626.8" rx="2.5" ry="1.9" fill="#ededed" stroke="#d2d2d2" stroke-width="0.5"/><ellipse cx="105.2" cy="625.1" rx="2.5" ry="1.9" fill="#ededed" stroke="#d2d2d2" stroke-width="0.5"/><ellipse cx="110.8" cy="623.4" rx="2.5" ry="1.9" fill="#ededed" stroke="#d2d2d2" stroke-width="0.5"/><ellipse cx="116.4" cy="621.7" rx="2.5" ry="1.9" fill="#ededed" stroke="#d2d2d2" stroke-width="0.5"/><ellipse cx="90.3" cy="634.3" rx="2.5" ry="1.9" fill="#ededed" stroke="#d2d2d2" stroke-width="0.5"/><ellipse cx="95.9" cy="632.6" rx="2.5" ry="1.9" fill="#ededed" stroke="#d2d2d2" stroke-width="0.5"/><ellipse cx="101.5" cy="630.9" rx="2.5" ry="1.9" fill="#ededed" stroke="#d2d2d2" stroke-width="0.5"/><ellipse cx="107.1" cy="629.2" rx="2.5" ry="1.9" fill="#ededed" stroke="#d2d2d2" stroke-width="0.5"/><ellipse cx="112.7" cy="627.5" rx="2.5" ry="1.9" fill="#ededed" stroke="#d2d2d2" stroke-width="0.5"/><ellipse cx="118.3" cy="625.8" rx="2.5" ry="1.9" fill="#ededed" stroke="#d2d2d2" stroke-width="0.5"/><polygon points="87.4,642.6 123.4,657.2 123.4,660.6 87.4,646.0" fill="#bdbdbd" stroke="#8e8e8e" stroke-width="0.5"/><polygon points="135.2,637.6 123.4,657.2 123.4,660.6 135.2,641.0" fill="#d4d4d4" stroke="#9a9a9a" stroke-width="0.5"/><polygon points="99.2,623.0 87.4,642.6 87.4,646.0 99.2,626.4" fill="#cfcfcf" stroke="#9a9a9a" stroke-width="0.4"/><polygon points="99.2,623.0 135.2,637.6 123.4,657.2 87.4,642.6" fill="#e4e4e4" stroke="#8c8c8c" stroke-width="0.6"/><polygon points="99.9,624.8 133.1,638.2 122.7,655.4 89.5,642.0" fill="#d0d0d0" stroke="#a6a6a6" stroke-width="0.4"/><ellipse cx="102.0" cy="629.7" rx="2.7" ry="2.1" fill="#a9a9a9"/><ellipse cx="102.0" cy="628.8" rx="2.7" ry="2.0" fill="#f2f2f2" stroke="#8a8a8a" stroke-width="0.5"/><ellipse cx="102.3" cy="629.3" rx="1.5" ry="1.0" fill="#dadada"/><ellipse cx="107.2" cy="631.8" rx="2.7" ry="2.1" fill="#a9a9a9"/><ellipse cx="107.2" cy="630.9" rx="2.7" ry="2.0" fill="#f2f2f2" stroke="#8a8a8a" stroke-width="0.5"/><ellipse cx="107.5" cy="631.4" rx="1.5" ry="1.0" fill="#dadada"/><ellipse cx="112.3" cy="633.9" rx="2.7" ry="2.1" fill="#a9a9a9"/><ellipse cx="112.3" cy="633.0" rx="2.7" ry="2.0" fill="#f2f2f2" stroke="#8a8a8a" stroke-width="0.5"/><ellipse cx="112.6" cy="633.5" rx="1.5" ry="1.0" fill="#dadada"/><ellipse cx="117.5" cy="636.0" rx="2.7" ry="2.1" fill="#a9a9a9"/><ellipse cx="117.5" cy="635.1" rx="2.7" ry="2.0" fill="#f2f2f2" stroke="#8a8a8a" stroke-width="0.5"/><ellipse cx="117.8" cy="635.6" rx="1.5" ry="1.0" fill="#dadada"/><ellipse cx="122.7" cy="638.1" rx="2.7" ry="2.1" fill="#a9a9a9"/><ellipse cx="122.7" cy="637.2" rx="2.7" ry="2.0" fill="#f2f2f2" stroke="#8a8a8a" stroke-width="0.5"/><ellipse cx="123.0" cy="637.7" rx="1.5" ry="1.0" fill="#dadada"/><ellipse cx="127.8" cy="640.2" rx="2.7" ry="2.1" fill="#a9a9a9"/><ellipse cx="127.8" cy="639.3" rx="2.7" ry="2.0" fill="#f2f2f2" stroke="#8a8a8a" stroke-width="0.5"/><ellipse cx="128.1" cy="639.8" rx="1.5" ry="1.0" fill="#dadada"/><ellipse cx="99.6" cy="633.8" rx="2.7" ry="2.1" fill="#a9a9a9"/><ellipse cx="99.6" cy="632.9" rx="2.7" ry="2.0" fill="#f2f2f2" stroke="#8a8a8a" stroke-width="0.5"/><ellipse cx="99.9" cy="633.4" rx="1.5" ry="1.0" fill="#dadada"/><ellipse cx="104.8" cy="635.9" rx="2.7" ry="2.1" fill="#a9a9a9"/><ellipse cx="104.8" cy="635.0" rx="2.7" ry="2.0" fill="#f2f2f2" stroke="#8a8a8a" stroke-width="0.5"/><ellipse cx="105.1" cy="635.5" rx="1.5" ry="1.0" fill="#dadada"/><ellipse cx="109.9" cy="637.9" rx="2.7" ry="2.1" fill="#a9a9a9"/><ellipse cx="109.9" cy="637.0" rx="2.7" ry="2.0" fill="#f2f2f2" stroke="#8a8a8a" stroke-width="0.5"/><ellipse cx="110.2" cy="637.5" rx="1.5" ry="1.0" fill="#dadada"/><ellipse cx="115.1" cy="640.0" rx="2.7" ry="2.1" fill="#a9a9a9"/><ellipse cx="115.1" cy="639.1" rx="2.7" ry="2.0" fill="#f2f2f2" stroke="#8a8a8a" stroke-width="0.5"/><ellipse cx="115.4" cy="639.6" rx="1.5" ry="1.0" fill="#dadada"/><ellipse cx="120.2" cy="642.1" rx="2.7" ry="2.1" fill="#a9a9a9"/><ellipse cx="120.2" cy="641.2" rx="2.7" ry="2.0" fill="#f2f2f2" stroke="#8a8a8a" stroke-width="0.5"/><ellipse cx="120.5" cy="641.7" rx="1.5" ry="1.0" fill="#dadada"/><ellipse cx="125.4" cy="644.2" rx="2.7" ry="2.1" fill="#a9a9a9"/><ellipse cx="125.4" cy="643.3" rx="2.7" ry="2.0" fill="#f2f2f2" stroke="#8a8a8a" stroke-width="0.5"/><ellipse cx="125.7" cy="643.8" rx="1.5" ry="1.0" fill="#dadada"/><ellipse cx="97.2" cy="637.8" rx="2.7" ry="2.1" fill="#a9a9a9"/><ellipse cx="97.2" cy="636.9" rx="2.7" ry="2.0" fill="#f2f2f2" stroke="#8a8a8a" stroke-width="0.5"/><ellipse cx="97.5" cy="637.4" rx="1.5" ry="1.0" fill="#dadada"/><ellipse cx="102.4" cy="639.9" rx="2.7" ry="2.1" fill="#a9a9a9"/><ellipse cx="102.4" cy="639.0" rx="2.7" ry="2.0" fill="#f2f2f2" stroke="#8a8a8a" stroke-width="0.5"/><ellipse cx="102.7" cy="639.5" rx="1.5" ry="1.0" fill="#dadada"/><ellipse cx="107.5" cy="642.0" rx="2.7" ry="2.1" fill="#a9a9a9"/><ellipse cx="107.5" cy="641.1" rx="2.7" ry="2.0" fill="#f2f2f2" stroke="#8a8a8a" stroke-width="0.5"/><ellipse cx="107.8" cy="641.6" rx="1.5" ry="1.0" fill="#dadada"/><ellipse cx="112.7" cy="644.1" rx="2.7" ry="2.1" fill="#a9a9a9"/><ellipse cx="112.7" cy="643.2" rx="2.7" ry="2.0" fill="#f2f2f2" stroke="#8a8a8a" stroke-width="0.5"/><ellipse cx="113.0" cy="643.7" rx="1.5" ry="1.0" fill="#dadada"/><ellipse cx="117.8" cy="646.1" rx="2.7" ry="2.1" fill="#a9a9a9"/><ellipse cx="117.8" cy="645.2" rx="2.7" ry="2.0" fill="#f2f2f2" stroke="#8a8a8a" stroke-width="0.5"/><ellipse cx="118.1" cy="645.7" rx="1.5" ry="1.0" fill="#dadada"/><ellipse cx="123.0" cy="648.2" rx="2.7" ry="2.1" fill="#a9a9a9"/><ellipse cx="123.0" cy="647.3" rx="2.7" ry="2.0" fill="#f2f2f2" stroke="#8a8a8a" stroke-width="0.5"/><ellipse cx="123.3" cy="647.8" rx="1.5" ry="1.0" fill="#dadada"/><ellipse cx="94.8" cy="641.8" rx="2.7" ry="2.1" fill="#a9a9a9"/><ellipse cx="94.8" cy="640.9" rx="2.7" ry="2.0" fill="#f2f2f2" stroke="#8a8a8a" stroke-width="0.5"/><ellipse cx="95.1" cy="641.4" rx="1.5" ry="1.0" fill="#dadada"/><ellipse cx="99.9" cy="643.9" rx="2.7" ry="2.1" fill="#a9a9a9"/><ellipse cx="99.9" cy="643.0" rx="2.7" ry="2.0" fill="#f2f2f2" stroke="#8a8a8a" stroke-width="0.5"/><ellipse cx="100.2" cy="643.5" rx="1.5" ry="1.0" fill="#dadada"/><ellipse cx="105.1" cy="646.0" rx="2.7" ry="2.1" fill="#a9a9a9"/><ellipse cx="105.1" cy="645.1" rx="2.7" ry="2.0" fill="#f2f2f2" stroke="#8a8a8a" stroke-width="0.5"/><ellipse cx="105.4" cy="645.6" rx="1.5" ry="1.0" fill="#dadada"/><ellipse cx="110.3" cy="648.1" rx="2.7" ry="2.1" fill="#a9a9a9"/><ellipse cx="110.3" cy="647.2" rx="2.7" ry="2.0" fill="#f2f2f2" stroke="#8a8a8a" stroke-width="0.5"/><ellipse cx="110.6" cy="647.7" rx="1.5" ry="1.0" fill="#dadada"/><ellipse cx="115.4" cy="650.2" rx="2.7" ry="2.1" fill="#a9a9a9"/><ellipse cx="115.4" cy="649.3" rx="2.7" ry="2.0" fill="#f2f2f2" stroke="#8a8a8a" stroke-width="0.5"/><ellipse cx="115.7" cy="649.8" rx="1.5" ry="1.0" fill="#dadada"/><ellipse cx="120.6" cy="652.3" rx="2.7" ry="2.1" fill="#a9a9a9"/><ellipse cx="120.6" cy="651.4" rx="2.7" ry="2.0" fill="#f2f2f2" stroke="#8a8a8a" stroke-width="0.5"/><ellipse cx="120.9" cy="651.9" rx="1.5" ry="1.0" fill="#dadada"/>
<g transform="translate(88.2,591.4) rotate(24)"><polygon points="0.0,-12.4 1.7,-9.4 4.6,-11.2 4.5,-7.7 8.0,-7.8 6.2,-4.9 9.2,-3.2 6.2,-1.5 8.0,1.4 4.5,1.3 4.6,4.8 1.7,3.0 0.0,6.0 -1.7,3.0 -4.6,4.8 -4.5,1.3 -8.0,1.4 -6.2,-1.5 -9.2,-3.2 -6.2,-4.9 -8.0,-7.8 -4.5,-7.7 -4.6,-11.2 -1.7,-9.4" fill="#fff200"/><path d="M-4.6,0 l1.6,7.6 h6 l1.6,-7.6z" fill="#fff200"/><path d="M-5.2,-3.2 a5.2,5.2 0 1 1 10.4,0 q0,2.2 -1.6,4.6 l-1.5,5.2 h-4.2 l-1.5,-5.2 q-1.6,-2.4 -1.6,-4.6z" fill="#ffe900" stroke="#111" stroke-width="0.95" stroke-dasharray="1.3 0.6"/><path d="M-2.8,-4.8 l2.8,3 l2.8,-3 M-1.6,-1.6 v6.4 M1.6,-1.6 v6.4 M-3.2,-0.4 l6.4,3.2 M-2,-6.4 l4,1.6" fill="none" stroke="#222" stroke-width="0.65" stroke-dasharray="1.2 0.5"/><path d="M-2.3,6.4h4.6v3.6h-4.6z" fill="#3a3a1a" stroke="#111" stroke-width="0.5"/></g>
<g transform="translate(89.6,662.4) rotate(26)"><path d="M-5.2,-3.2 a5.2,5.2 0 1 1 10.4,0 q0,2.2 -1.6,4.6 l-1.5,5 h-4.2 l-1.5,-5 q-1.6,-2.4 -1.6,-4.6z" fill="#f1f1f1" stroke="#1b1b1b" stroke-width="0.9"/><path d="M-4,-5.6l6.6,6.6M-4.9,-2.8l5.6,5.6M-1.8,-7.4l6.2,6.2M1.2,-8l3.6,3.6M-4.4,0.6l3.4,3.4M-3,3.6l2,2" stroke="#2a2a2a" stroke-width="0.6"/><path d="M-2.3,6.2h4.6v3.8h-4.6z" fill="#555" stroke="#1b1b1b" stroke-width="0.5"/><path d="M-2.3,7.4h4.6M-2.3,8.7h4.6" stroke="#e0e0e0" stroke-width="0.4"/></g>
<text x="94.60" y="598.60" font-size="7.8" stroke="#111" stroke-width="0.172" textLength="59.50" lengthAdjust="spacingAndGlyphs">Irradiadas con luz</text>
<text x="99.10" y="668.80" font-size="7.8" stroke="#111" stroke-width="0.172" textLength="32.00" lengthAdjust="spacingAndGlyphs">A oscuras</text>
<text x="1.70" y="625.00" font-size="8.0" stroke="#111" stroke-width="0.176" textLength="51.60" lengthAdjust="spacingAndGlyphs"><tspan font-style="italic">E. coli</tspan> DH5α en</text>
<text x="2.70" y="636.00" font-size="8.0" stroke="#111" stroke-width="0.176" textLength="49.60" lengthAdjust="spacingAndGlyphs">LB DO<tspan baseline-shift="-0.3em" font-size="60%">600 nm</tspan> 0.2</text>
<path d="M201.2,532.0 V650.8 H372.4" fill="none" stroke="#2a2a2a" stroke-width="1.2"/>
<path d="M209.60,650.8v2.3M218.16,650.8v2.3M226.72,650.8v2.3M235.28,650.8v2.3M243.84,650.8v3.8M252.40,650.8v2.3M260.96,650.8v2.3M269.52,650.8v2.3M278.08,650.8v2.3M286.64,650.8v3.8M295.20,650.8v2.3M303.76,650.8v2.3M312.32,650.8v2.3M320.88,650.8v2.3M329.44,650.8v3.8M338.00,650.8v2.3M346.56,650.8v2.3M355.12,650.8v2.3M363.68,650.8v2.3M372.24,650.8v3.8M201.2,573.50h-2.4M201.2,563.15h-2.4M201.2,555.80h-2.4M201.2,550.10h-2.4M201.2,545.44h-2.4M201.2,541.51h-2.4M201.2,538.10h-2.4M201.2,535.09h-2.4M201.2,632.30h-2.4M201.2,621.95h-2.4M201.2,614.60h-2.4M201.2,608.90h-2.4M201.2,604.24h-2.4M201.2,600.31h-2.4M201.2,596.90h-2.4M201.2,593.89h-2.4M201.2,532.4h-4M201.2,591.2h-4M201.2,650.0h-4" stroke="#2a2a2a" stroke-width="1.0" fill="none"/>
<text x="195.60" y="534.60" font-size="6.7" stroke="#111" stroke-width="0.147" textLength="18.60" lengthAdjust="spacingAndGlyphs" text-anchor="end">1e+08</text>
<text x="195.60" y="593.40" font-size="6.7" stroke="#111" stroke-width="0.147" textLength="18.60" lengthAdjust="spacingAndGlyphs" text-anchor="end">1e+07</text>
<text x="195.60" y="652.20" font-size="6.7" stroke="#111" stroke-width="0.147" textLength="18.60" lengthAdjust="spacingAndGlyphs" text-anchor="end">1e+06</text>
<text x="171.70" y="607.50" font-size="8.6" stroke="#111" stroke-width="0.189" textLength="29.30" lengthAdjust="spacingAndGlyphs">UFC/cm</text>
<text x="169.00" y="576.60" font-size="4.6" stroke="#111" stroke-width="0.101">2</text>
<path d="M231.1,623.0V612.3M228.7,612.3h4.8" fill="none" stroke="#111" stroke-width="1.1"/>
<path d="M256.6,615.3V604.2M254.2,604.2h4.8" fill="none" stroke="#111" stroke-width="1.1"/>
<path d="M316.5,621.4V611.0M314.9,611.0h3.2" fill="none" stroke="#111" stroke-width="1.1"/>
<path d="M342.2,598.3V588.4M340.2,588.4h4.0" fill="none" stroke="#111" stroke-width="1.1"/>
<rect x="218.2" y="623.0" width="25.5" height="27.8" fill="#a8fb80" stroke="#111" stroke-width="1.15"/>
<rect x="243.7" y="615.3" width="25.9" height="35.5" fill="#05a20a" stroke="#111" stroke-width="1.15"/>
<rect x="303.6" y="621.4" width="25.4" height="29.4" fill="#a8fb80" stroke="#111" stroke-width="1.15"/>
<rect x="329.0" y="598.3" width="25.8" height="52.5" fill="#05a20a" stroke="#111" stroke-width="1.15"/>
<line x1="316.9" y1="582.4" x2="341.8" y2="582.4" stroke="#222" stroke-width="0.9"/>
<text x="328.20" y="579.00" font-size="5.6" stroke="#111" stroke-width="0.123" text-anchor="middle">**</text>
<text x="242.10" y="661.90" font-size="6.9" stroke="#111" stroke-width="0.152" textLength="54.40" lengthAdjust="spacingAndGlyphs" text-anchor="middle">ZrO2 mesoporoso</text>
<text x="327.80" y="661.90" font-size="6.9" stroke="#111" stroke-width="0.152" textLength="29.40" lengthAdjust="spacingAndGlyphs" text-anchor="middle">Au@ZrO2</text>
<rect x="202.3" y="531.9" width="85" height="22.6" fill="#fff" stroke="#c4c4c4" stroke-width="0.8"/>
<rect x="205.5" y="536.3" width="9" height="4.1" fill="#a8fb80" stroke="#111" stroke-width="0.9"/>
<rect x="205.5" y="546.3" width="9" height="4.1" fill="#05a20a" stroke="#111" stroke-width="0.9"/>
<text x="218.80" y="540.00" font-size="6.6" stroke="#111" stroke-width="0.145" textLength="50.20" lengthAdjust="spacingAndGlyphs">irradiación 24 hs</text>
<text x="218.80" y="549.90" font-size="6.6" stroke="#111" stroke-width="0.145" textLength="59.20" lengthAdjust="spacingAndGlyphs">sin irradiación 24 hs</text>
<path d="M204.8,683.0 V794.9 H368.6" fill="none" stroke="#4a4a4a" stroke-width="0.8"/>
<path d="M213.30,794.9v1.9M221.47,794.9v1.9M229.63,794.9v1.9M237.79,794.9v1.9M245.96,794.9v3.0M254.12,794.9v1.9M262.29,794.9v1.9M270.45,794.9v1.9M278.62,794.9v1.9M286.79,794.9v3.0M294.95,794.9v1.9M303.12,794.9v1.9M311.28,794.9v1.9M319.45,794.9v1.9M327.61,794.9v3.0M335.78,794.9v1.9M343.94,794.9v1.9M352.11,794.9v1.9M360.27,794.9v1.9M368.44,794.9v3.0M204.8,683.6h-2.8M204.8,715.7h-2.8M204.8,747.4h-2.8M204.8,779.0h-2.8M204.8,699.7h-1.7M204.8,731.5h-1.7M204.8,763.2h-1.7M204.8,794.8h-1.7" stroke="#4a4a4a" stroke-width="0.6" fill="none"/>
<text x="201.00" y="685.60" font-size="5.9" stroke="#222" stroke-width="0.130" textLength="20.20" lengthAdjust="spacingAndGlyphs" fill="#222" text-anchor="end">400,000</text>
<text x="201.00" y="717.70" font-size="5.9" stroke="#222" stroke-width="0.130" textLength="20.20" lengthAdjust="spacingAndGlyphs" fill="#222" text-anchor="end">300,000</text>
<text x="201.00" y="749.40" font-size="5.9" stroke="#222" stroke-width="0.130" textLength="20.20" lengthAdjust="spacingAndGlyphs" fill="#222" text-anchor="end">200,000</text>
<text x="201.00" y="781.00" font-size="5.9" stroke="#222" stroke-width="0.130" textLength="20.20" lengthAdjust="spacingAndGlyphs" fill="#222" text-anchor="end">100,000</text>
<text x="0.00" y="0.00" font-size="6.4" stroke="#222" stroke-width="0.141" textLength="64.60" lengthAdjust="spacingAndGlyphs" fill="#222" text-anchor="middle" transform="translate(177.2,737) rotate(-90)">Emisión 582 nm (u.a.)</text>
<rect x="204.8" y="683" width="54.9" height="17.6" fill="#fff" stroke="#8a8a8a" stroke-width="0.6"/>
<rect x="209.8" y="687" width="6.3" height="3.8" fill="#f94ff9" stroke="#222" stroke-width="0.6"/>
<rect x="209.8" y="693.6" width="6.3" height="3.8" fill="#ffaaff" stroke="#222" stroke-width="0.6"/>
<text x="218.80" y="690.90" font-size="5.4" stroke="#222" stroke-width="0.119" textLength="32.00" lengthAdjust="spacingAndGlyphs" fill="#222">Sin Irradiación</text>
<text x="218.80" y="697.50" font-size="5.4" stroke="#222" stroke-width="0.119" textLength="37.60" lengthAdjust="spacingAndGlyphs" fill="#222">Irradiación 24 hs</text>
<path d="M233.7,737.4V709.0M232.5,709.0h2.4" fill="none" stroke="#111" stroke-width="0.8"/>
<path d="M258.6,731.5V690.2M257.4,690.2h2.4" fill="none" stroke="#111" stroke-width="0.8"/>
<path d="M315.5,742.6V719.0M314.3,719.0h2.4" fill="none" stroke="#111" stroke-width="0.8"/>
<path d="M340.6,771.9V755.4M339.4,755.4h2.4" fill="none" stroke="#111" stroke-width="0.8"/>
<rect x="221.5" y="737.4" width="24.8" height="57.5" fill="#f94ff9" stroke="#111" stroke-width="0.75"/>
<rect x="246.3" y="731.5" width="24.9" height="63.4" fill="#ffaaff" stroke="#111" stroke-width="0.75"/>
<rect x="303.3" y="742.6" width="24.7" height="52.3" fill="#f94ff9" stroke="#111" stroke-width="0.75"/>
<rect x="328.0" y="771.9" width="24.6" height="23.0" fill="#ffaaff" stroke="#111" stroke-width="0.75"/>
<line x1="316.4" y1="714.5" x2="341.9" y2="714.5" stroke="#333" stroke-width="0.7"/>
<text x="329.80" y="712.60" font-size="5.2" stroke="#222" stroke-width="0.114" fill="#222" text-anchor="middle">**</text>
<text x="246.00" y="805.80" font-size="5.8" stroke="#222" stroke-width="0.128" textLength="17.40" lengthAdjust="spacingAndGlyphs" fill="#222" text-anchor="middle">mZrO2</text>
<text x="328.20" y="805.80" font-size="5.8" stroke="#222" stroke-width="0.128" textLength="31.90" lengthAdjust="spacingAndGlyphs" fill="#222" text-anchor="middle">Au@mZrO2</text>
<rect x="668" y="0" width="1.2" height="892" fill="#000"/>
</svg>
</body>
</html>
